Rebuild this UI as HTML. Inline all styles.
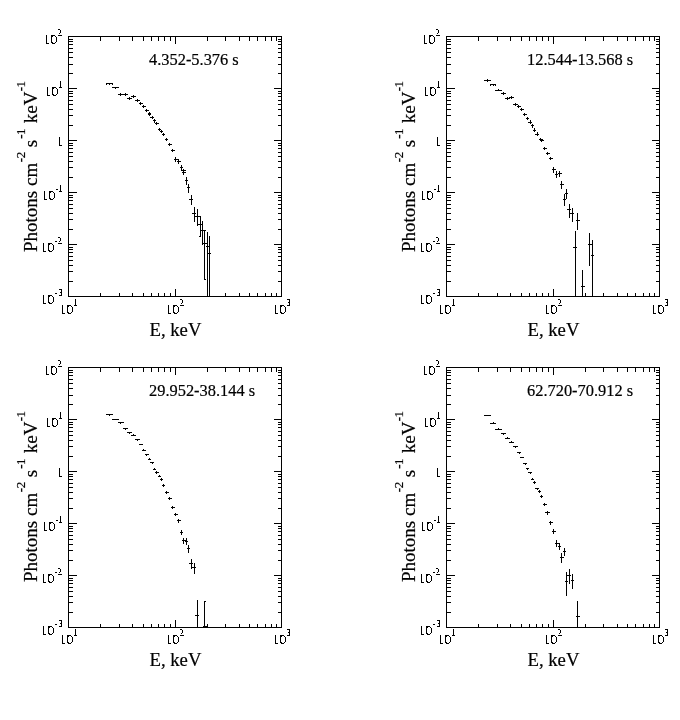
<!DOCTYPE html>
<html><head><meta charset="utf-8"><title>Spectra</title>
<style>
html,body{margin:0;padding:0;background:#fff;}
body{width:680px;height:720px;overflow:hidden;}
svg{display:block;will-change:transform;opacity:0.999;}
text{font-family:"Liberation Serif",serif;fill:#000;stroke:#000;stroke-width:0.2px;}
</style></head>
<body>
<svg width="680" height="720" viewBox="0 0 680 720">
<rect x="0" y="0" width="680" height="720" fill="#fff"/>
<g fill="#000" shape-rendering="crispEdges">
<rect x="68" y="36" width="214" height="1"/>
<rect x="68" y="296" width="214" height="1"/>
<rect x="68" y="36" width="1" height="261"/>
<rect x="281" y="36" width="1" height="261"/>
<rect x="68" y="73" width="5" height="1"/>
<rect x="278" y="73" width="4" height="1"/>
<rect x="68" y="64" width="5" height="1"/>
<rect x="278" y="64" width="4" height="1"/>
<rect x="68" y="57" width="5" height="1"/>
<rect x="278" y="57" width="4" height="1"/>
<rect x="68" y="52" width="5" height="1"/>
<rect x="278" y="52" width="4" height="1"/>
<rect x="68" y="48" width="5" height="1"/>
<rect x="278" y="48" width="4" height="1"/>
<rect x="68" y="44" width="5" height="1"/>
<rect x="278" y="44" width="4" height="1"/>
<rect x="68" y="41" width="5" height="1"/>
<rect x="278" y="41" width="4" height="1"/>
<rect x="68" y="39" width="5" height="1"/>
<rect x="278" y="39" width="4" height="1"/>
<rect x="68" y="88" width="9" height="1"/>
<rect x="274" y="88" width="8" height="1"/>
<rect x="68" y="125" width="5" height="1"/>
<rect x="278" y="125" width="4" height="1"/>
<rect x="68" y="115" width="5" height="1"/>
<rect x="278" y="115" width="4" height="1"/>
<rect x="68" y="109" width="5" height="1"/>
<rect x="278" y="109" width="4" height="1"/>
<rect x="68" y="104" width="5" height="1"/>
<rect x="278" y="104" width="4" height="1"/>
<rect x="68" y="100" width="5" height="1"/>
<rect x="278" y="100" width="4" height="1"/>
<rect x="68" y="96" width="5" height="1"/>
<rect x="278" y="96" width="4" height="1"/>
<rect x="68" y="93" width="5" height="1"/>
<rect x="278" y="93" width="4" height="1"/>
<rect x="68" y="91" width="5" height="1"/>
<rect x="278" y="91" width="4" height="1"/>
<rect x="68" y="140" width="9" height="1"/>
<rect x="274" y="140" width="8" height="1"/>
<rect x="68" y="177" width="5" height="1"/>
<rect x="278" y="177" width="4" height="1"/>
<rect x="68" y="167" width="5" height="1"/>
<rect x="278" y="167" width="4" height="1"/>
<rect x="68" y="161" width="5" height="1"/>
<rect x="278" y="161" width="4" height="1"/>
<rect x="68" y="156" width="5" height="1"/>
<rect x="278" y="156" width="4" height="1"/>
<rect x="68" y="152" width="5" height="1"/>
<rect x="278" y="152" width="4" height="1"/>
<rect x="68" y="148" width="5" height="1"/>
<rect x="278" y="148" width="4" height="1"/>
<rect x="68" y="145" width="5" height="1"/>
<rect x="278" y="145" width="4" height="1"/>
<rect x="68" y="143" width="5" height="1"/>
<rect x="278" y="143" width="4" height="1"/>
<rect x="68" y="192" width="9" height="1"/>
<rect x="274" y="192" width="8" height="1"/>
<rect x="68" y="229" width="5" height="1"/>
<rect x="278" y="229" width="4" height="1"/>
<rect x="68" y="219" width="5" height="1"/>
<rect x="278" y="219" width="4" height="1"/>
<rect x="68" y="213" width="5" height="1"/>
<rect x="278" y="213" width="4" height="1"/>
<rect x="68" y="208" width="5" height="1"/>
<rect x="278" y="208" width="4" height="1"/>
<rect x="68" y="204" width="5" height="1"/>
<rect x="278" y="204" width="4" height="1"/>
<rect x="68" y="200" width="5" height="1"/>
<rect x="278" y="200" width="4" height="1"/>
<rect x="68" y="197" width="5" height="1"/>
<rect x="278" y="197" width="4" height="1"/>
<rect x="68" y="195" width="5" height="1"/>
<rect x="278" y="195" width="4" height="1"/>
<rect x="68" y="244" width="9" height="1"/>
<rect x="274" y="244" width="8" height="1"/>
<rect x="68" y="281" width="5" height="1"/>
<rect x="278" y="281" width="4" height="1"/>
<rect x="68" y="271" width="5" height="1"/>
<rect x="278" y="271" width="4" height="1"/>
<rect x="68" y="265" width="5" height="1"/>
<rect x="278" y="265" width="4" height="1"/>
<rect x="68" y="260" width="5" height="1"/>
<rect x="278" y="260" width="4" height="1"/>
<rect x="68" y="256" width="5" height="1"/>
<rect x="278" y="256" width="4" height="1"/>
<rect x="68" y="252" width="5" height="1"/>
<rect x="278" y="252" width="4" height="1"/>
<rect x="68" y="249" width="5" height="1"/>
<rect x="278" y="249" width="4" height="1"/>
<rect x="68" y="247" width="5" height="1"/>
<rect x="278" y="247" width="4" height="1"/>
<rect x="100" y="293" width="1" height="4"/>
<rect x="100" y="36" width="1" height="5"/>
<rect x="119" y="293" width="1" height="4"/>
<rect x="119" y="36" width="1" height="5"/>
<rect x="132" y="293" width="1" height="4"/>
<rect x="132" y="36" width="1" height="5"/>
<rect x="143" y="293" width="1" height="4"/>
<rect x="143" y="36" width="1" height="5"/>
<rect x="151" y="293" width="1" height="4"/>
<rect x="151" y="36" width="1" height="5"/>
<rect x="158" y="293" width="1" height="4"/>
<rect x="158" y="36" width="1" height="5"/>
<rect x="164" y="293" width="1" height="4"/>
<rect x="164" y="36" width="1" height="5"/>
<rect x="170" y="293" width="1" height="4"/>
<rect x="170" y="36" width="1" height="5"/>
<rect x="175" y="289" width="1" height="8"/>
<rect x="175" y="36" width="1" height="8"/>
<rect x="207" y="293" width="1" height="4"/>
<rect x="207" y="36" width="1" height="5"/>
<rect x="225" y="293" width="1" height="4"/>
<rect x="225" y="36" width="1" height="5"/>
<rect x="239" y="293" width="1" height="4"/>
<rect x="239" y="36" width="1" height="5"/>
<rect x="249" y="293" width="1" height="4"/>
<rect x="249" y="36" width="1" height="5"/>
<rect x="257" y="293" width="1" height="4"/>
<rect x="257" y="36" width="1" height="5"/>
<rect x="265" y="293" width="1" height="4"/>
<rect x="265" y="36" width="1" height="5"/>
<rect x="271" y="293" width="1" height="4"/>
<rect x="271" y="36" width="1" height="5"/>
<rect x="276" y="293" width="1" height="4"/>
<rect x="276" y="36" width="1" height="5"/>
<rect x="58" y="29" width="2" height="1"/>
<rect x="60" y="30" width="1" height="1"/>
<rect x="60" y="31" width="1" height="1"/>
<rect x="60" y="32" width="1" height="1"/>
<rect x="59" y="33" width="1" height="1"/>
<rect x="58" y="35" width="4" height="1"/>
<rect x="51" y="35" width="4" height="1"/>
<rect x="51" y="36" width="2" height="1"/>
<rect x="55" y="36" width="1" height="1"/>
<rect x="51" y="37" width="1" height="1"/>
<rect x="56" y="37" width="1" height="1"/>
<rect x="51" y="38" width="1" height="1"/>
<rect x="56" y="38" width="1" height="1"/>
<rect x="51" y="39" width="1" height="1"/>
<rect x="56" y="39" width="1" height="1"/>
<rect x="51" y="40" width="1" height="1"/>
<rect x="56" y="40" width="1" height="1"/>
<rect x="51" y="41" width="1" height="1"/>
<rect x="56" y="41" width="1" height="1"/>
<rect x="51" y="42" width="2" height="1"/>
<rect x="55" y="42" width="1" height="1"/>
<rect x="52" y="43" width="3" height="1"/>
<rect x="46" y="35" width="1" height="1"/>
<rect x="46" y="36" width="1" height="1"/>
<rect x="46" y="37" width="1" height="1"/>
<rect x="46" y="38" width="1" height="1"/>
<rect x="46" y="39" width="1" height="1"/>
<rect x="46" y="40" width="1" height="1"/>
<rect x="46" y="41" width="1" height="1"/>
<rect x="46" y="42" width="1" height="1"/>
<rect x="46" y="43" width="3" height="1"/>
<rect x="60" y="81" width="1" height="1"/>
<rect x="60" y="82" width="1" height="1"/>
<rect x="60" y="83" width="1" height="1"/>
<rect x="60" y="84" width="1" height="1"/>
<rect x="60" y="85" width="1" height="1"/>
<rect x="60" y="86" width="1" height="1"/>
<rect x="59" y="87" width="3" height="1"/>
<rect x="52" y="87" width="4" height="1"/>
<rect x="52" y="88" width="2" height="1"/>
<rect x="56" y="88" width="1" height="1"/>
<rect x="52" y="89" width="1" height="1"/>
<rect x="57" y="89" width="1" height="1"/>
<rect x="52" y="90" width="1" height="1"/>
<rect x="57" y="90" width="1" height="1"/>
<rect x="52" y="91" width="1" height="1"/>
<rect x="57" y="91" width="1" height="1"/>
<rect x="52" y="92" width="1" height="1"/>
<rect x="57" y="92" width="1" height="1"/>
<rect x="52" y="93" width="1" height="1"/>
<rect x="57" y="93" width="1" height="1"/>
<rect x="52" y="94" width="2" height="1"/>
<rect x="56" y="94" width="1" height="1"/>
<rect x="53" y="95" width="3" height="1"/>
<rect x="47" y="87" width="1" height="1"/>
<rect x="47" y="88" width="1" height="1"/>
<rect x="47" y="89" width="1" height="1"/>
<rect x="47" y="90" width="1" height="1"/>
<rect x="47" y="91" width="1" height="1"/>
<rect x="47" y="92" width="1" height="1"/>
<rect x="47" y="93" width="1" height="1"/>
<rect x="47" y="94" width="1" height="1"/>
<rect x="47" y="95" width="3" height="1"/>
<rect x="59" y="137" width="1" height="1"/>
<rect x="59" y="138" width="1" height="1"/>
<rect x="59" y="139" width="1" height="1"/>
<rect x="59" y="140" width="1" height="1"/>
<rect x="59" y="141" width="1" height="1"/>
<rect x="59" y="142" width="1" height="1"/>
<rect x="59" y="143" width="1" height="1"/>
<rect x="59" y="144" width="1" height="1"/>
<rect x="59" y="145" width="3" height="1"/>
<rect x="56" y="189" width="2" height="1"/>
<rect x="60" y="185" width="1" height="1"/>
<rect x="60" y="186" width="1" height="1"/>
<rect x="60" y="187" width="1" height="1"/>
<rect x="60" y="188" width="1" height="1"/>
<rect x="60" y="189" width="1" height="1"/>
<rect x="60" y="190" width="1" height="1"/>
<rect x="59" y="191" width="3" height="1"/>
<rect x="49" y="191" width="4" height="1"/>
<rect x="49" y="192" width="2" height="1"/>
<rect x="53" y="192" width="1" height="1"/>
<rect x="49" y="193" width="1" height="1"/>
<rect x="54" y="193" width="1" height="1"/>
<rect x="49" y="194" width="1" height="1"/>
<rect x="54" y="194" width="1" height="1"/>
<rect x="49" y="195" width="1" height="1"/>
<rect x="54" y="195" width="1" height="1"/>
<rect x="49" y="196" width="1" height="1"/>
<rect x="54" y="196" width="1" height="1"/>
<rect x="49" y="197" width="1" height="1"/>
<rect x="54" y="197" width="1" height="1"/>
<rect x="49" y="198" width="2" height="1"/>
<rect x="53" y="198" width="1" height="1"/>
<rect x="50" y="199" width="3" height="1"/>
<rect x="44" y="191" width="1" height="1"/>
<rect x="44" y="192" width="1" height="1"/>
<rect x="44" y="193" width="1" height="1"/>
<rect x="44" y="194" width="1" height="1"/>
<rect x="44" y="195" width="1" height="1"/>
<rect x="44" y="196" width="1" height="1"/>
<rect x="44" y="197" width="1" height="1"/>
<rect x="44" y="198" width="1" height="1"/>
<rect x="44" y="199" width="3" height="1"/>
<rect x="55" y="241" width="2" height="1"/>
<rect x="58" y="237" width="2" height="1"/>
<rect x="60" y="238" width="1" height="1"/>
<rect x="60" y="239" width="1" height="1"/>
<rect x="60" y="240" width="1" height="1"/>
<rect x="59" y="241" width="1" height="1"/>
<rect x="58" y="243" width="4" height="1"/>
<rect x="48" y="243" width="4" height="1"/>
<rect x="48" y="244" width="2" height="1"/>
<rect x="52" y="244" width="1" height="1"/>
<rect x="48" y="245" width="1" height="1"/>
<rect x="53" y="245" width="1" height="1"/>
<rect x="48" y="246" width="1" height="1"/>
<rect x="53" y="246" width="1" height="1"/>
<rect x="48" y="247" width="1" height="1"/>
<rect x="53" y="247" width="1" height="1"/>
<rect x="48" y="248" width="1" height="1"/>
<rect x="53" y="248" width="1" height="1"/>
<rect x="48" y="249" width="1" height="1"/>
<rect x="53" y="249" width="1" height="1"/>
<rect x="48" y="250" width="2" height="1"/>
<rect x="52" y="250" width="1" height="1"/>
<rect x="49" y="251" width="3" height="1"/>
<rect x="43" y="243" width="1" height="1"/>
<rect x="43" y="244" width="1" height="1"/>
<rect x="43" y="245" width="1" height="1"/>
<rect x="43" y="246" width="1" height="1"/>
<rect x="43" y="247" width="1" height="1"/>
<rect x="43" y="248" width="1" height="1"/>
<rect x="43" y="249" width="1" height="1"/>
<rect x="43" y="250" width="1" height="1"/>
<rect x="43" y="251" width="3" height="1"/>
<rect x="55" y="293" width="2" height="1"/>
<rect x="59" y="289" width="3" height="1"/>
<rect x="61" y="290" width="1" height="1"/>
<rect x="61" y="291" width="1" height="1"/>
<rect x="60" y="292" width="2" height="1"/>
<rect x="61" y="293" width="1" height="1"/>
<rect x="61" y="294" width="1" height="1"/>
<rect x="59" y="295" width="3" height="1"/>
<rect x="48" y="295" width="4" height="1"/>
<rect x="48" y="296" width="2" height="1"/>
<rect x="52" y="296" width="1" height="1"/>
<rect x="48" y="297" width="1" height="1"/>
<rect x="53" y="297" width="1" height="1"/>
<rect x="48" y="298" width="1" height="1"/>
<rect x="53" y="298" width="1" height="1"/>
<rect x="48" y="299" width="1" height="1"/>
<rect x="53" y="299" width="1" height="1"/>
<rect x="48" y="300" width="1" height="1"/>
<rect x="53" y="300" width="1" height="1"/>
<rect x="48" y="301" width="1" height="1"/>
<rect x="53" y="301" width="1" height="1"/>
<rect x="48" y="302" width="2" height="1"/>
<rect x="52" y="302" width="1" height="1"/>
<rect x="49" y="303" width="3" height="1"/>
<rect x="43" y="295" width="1" height="1"/>
<rect x="43" y="296" width="1" height="1"/>
<rect x="43" y="297" width="1" height="1"/>
<rect x="43" y="298" width="1" height="1"/>
<rect x="43" y="299" width="1" height="1"/>
<rect x="43" y="300" width="1" height="1"/>
<rect x="43" y="301" width="1" height="1"/>
<rect x="43" y="302" width="1" height="1"/>
<rect x="43" y="303" width="3" height="1"/>
<rect x="62" y="305" width="1" height="1"/>
<rect x="62" y="306" width="1" height="1"/>
<rect x="62" y="307" width="1" height="1"/>
<rect x="62" y="308" width="1" height="1"/>
<rect x="62" y="309" width="1" height="1"/>
<rect x="62" y="310" width="1" height="1"/>
<rect x="62" y="311" width="1" height="1"/>
<rect x="62" y="312" width="1" height="1"/>
<rect x="62" y="313" width="3" height="1"/>
<rect x="67" y="305" width="4" height="1"/>
<rect x="67" y="306" width="2" height="1"/>
<rect x="71" y="306" width="1" height="1"/>
<rect x="67" y="307" width="1" height="1"/>
<rect x="72" y="307" width="1" height="1"/>
<rect x="67" y="308" width="1" height="1"/>
<rect x="72" y="308" width="1" height="1"/>
<rect x="67" y="309" width="1" height="1"/>
<rect x="72" y="309" width="1" height="1"/>
<rect x="67" y="310" width="1" height="1"/>
<rect x="72" y="310" width="1" height="1"/>
<rect x="67" y="311" width="1" height="1"/>
<rect x="72" y="311" width="1" height="1"/>
<rect x="67" y="312" width="2" height="1"/>
<rect x="71" y="312" width="1" height="1"/>
<rect x="68" y="313" width="3" height="1"/>
<rect x="75" y="299" width="1" height="1"/>
<rect x="75" y="300" width="1" height="1"/>
<rect x="75" y="301" width="1" height="1"/>
<rect x="75" y="302" width="1" height="1"/>
<rect x="75" y="303" width="1" height="1"/>
<rect x="75" y="304" width="1" height="1"/>
<rect x="74" y="305" width="3" height="1"/>
<rect x="168" y="305" width="1" height="1"/>
<rect x="168" y="306" width="1" height="1"/>
<rect x="168" y="307" width="1" height="1"/>
<rect x="168" y="308" width="1" height="1"/>
<rect x="168" y="309" width="1" height="1"/>
<rect x="168" y="310" width="1" height="1"/>
<rect x="168" y="311" width="1" height="1"/>
<rect x="168" y="312" width="1" height="1"/>
<rect x="168" y="313" width="3" height="1"/>
<rect x="173" y="305" width="4" height="1"/>
<rect x="173" y="306" width="2" height="1"/>
<rect x="177" y="306" width="1" height="1"/>
<rect x="173" y="307" width="1" height="1"/>
<rect x="178" y="307" width="1" height="1"/>
<rect x="173" y="308" width="1" height="1"/>
<rect x="178" y="308" width="1" height="1"/>
<rect x="173" y="309" width="1" height="1"/>
<rect x="178" y="309" width="1" height="1"/>
<rect x="173" y="310" width="1" height="1"/>
<rect x="178" y="310" width="1" height="1"/>
<rect x="173" y="311" width="1" height="1"/>
<rect x="178" y="311" width="1" height="1"/>
<rect x="173" y="312" width="2" height="1"/>
<rect x="177" y="312" width="1" height="1"/>
<rect x="174" y="313" width="3" height="1"/>
<rect x="180" y="299" width="2" height="1"/>
<rect x="182" y="300" width="1" height="1"/>
<rect x="182" y="301" width="1" height="1"/>
<rect x="182" y="302" width="1" height="1"/>
<rect x="181" y="303" width="1" height="1"/>
<rect x="180" y="305" width="4" height="1"/>
<rect x="275" y="305" width="1" height="1"/>
<rect x="275" y="306" width="1" height="1"/>
<rect x="275" y="307" width="1" height="1"/>
<rect x="275" y="308" width="1" height="1"/>
<rect x="275" y="309" width="1" height="1"/>
<rect x="275" y="310" width="1" height="1"/>
<rect x="275" y="311" width="1" height="1"/>
<rect x="275" y="312" width="1" height="1"/>
<rect x="275" y="313" width="3" height="1"/>
<rect x="280" y="305" width="4" height="1"/>
<rect x="280" y="306" width="2" height="1"/>
<rect x="284" y="306" width="1" height="1"/>
<rect x="280" y="307" width="1" height="1"/>
<rect x="285" y="307" width="1" height="1"/>
<rect x="280" y="308" width="1" height="1"/>
<rect x="285" y="308" width="1" height="1"/>
<rect x="280" y="309" width="1" height="1"/>
<rect x="285" y="309" width="1" height="1"/>
<rect x="280" y="310" width="1" height="1"/>
<rect x="285" y="310" width="1" height="1"/>
<rect x="280" y="311" width="1" height="1"/>
<rect x="285" y="311" width="1" height="1"/>
<rect x="280" y="312" width="2" height="1"/>
<rect x="284" y="312" width="1" height="1"/>
<rect x="281" y="313" width="3" height="1"/>
<rect x="287" y="299" width="3" height="1"/>
<rect x="289" y="300" width="1" height="1"/>
<rect x="289" y="301" width="1" height="1"/>
<rect x="288" y="302" width="2" height="1"/>
<rect x="289" y="303" width="1" height="1"/>
<rect x="289" y="304" width="1" height="1"/>
<rect x="287" y="305" width="3" height="1"/>
<rect x="106" y="83" width="7" height="1"/>
<rect x="109" y="83" width="1" height="2"/>
<rect x="106" y="84" width="1" height="1"/>
<rect x="106" y="84" width="1" height="1"/>
<rect x="112" y="84" width="1" height="1"/>
<rect x="112" y="84" width="1" height="1"/>
<rect x="112" y="87" width="7" height="1"/>
<rect x="115" y="87" width="1" height="2"/>
<rect x="118" y="94" width="5" height="1"/>
<rect x="120" y="93" width="1" height="3"/>
<rect x="123" y="94" width="5" height="1"/>
<rect x="125" y="93" width="1" height="3"/>
<rect x="127" y="98" width="5" height="1"/>
<rect x="129" y="97" width="1" height="3"/>
<rect x="131" y="96" width="5" height="1"/>
<rect x="133" y="95" width="1" height="3"/>
<rect x="135" y="100" width="5" height="1"/>
<rect x="137" y="99" width="1" height="3"/>
<rect x="139" y="103" width="4" height="1"/>
<rect x="140" y="102" width="1" height="3"/>
<rect x="142" y="106" width="4" height="1"/>
<rect x="143" y="105" width="1" height="3"/>
<rect x="145" y="110" width="4" height="1"/>
<rect x="146" y="109" width="1" height="3"/>
<rect x="148" y="113" width="3" height="1"/>
<rect x="149" y="112" width="1" height="4"/>
<rect x="148" y="114" width="3" height="1"/>
<rect x="149" y="114" width="1" height="1"/>
<rect x="150" y="117" width="4" height="1"/>
<rect x="152" y="116" width="1" height="3"/>
<rect x="153" y="120" width="3" height="1"/>
<rect x="154" y="119" width="1" height="4"/>
<rect x="155" y="123" width="4" height="1"/>
<rect x="156" y="122" width="1" height="3"/>
<rect x="158" y="129" width="3" height="1"/>
<rect x="159" y="128" width="1" height="3"/>
<rect x="160" y="131" width="3" height="1"/>
<rect x="161" y="130" width="1" height="3"/>
<rect x="162" y="134" width="3" height="1"/>
<rect x="163" y="133" width="1" height="3"/>
<rect x="165" y="139" width="3" height="1"/>
<rect x="166" y="138" width="1" height="3"/>
<rect x="168" y="144" width="4" height="1"/>
<rect x="169" y="143" width="1" height="3"/>
<rect x="171" y="150" width="4" height="1"/>
<rect x="172" y="149" width="1" height="3"/>
<rect x="174" y="159" width="4" height="1"/>
<rect x="175" y="157" width="1" height="5"/>
<rect x="177" y="161" width="4" height="1"/>
<rect x="178" y="159" width="1" height="5"/>
<rect x="180" y="167" width="3" height="1"/>
<rect x="181" y="165" width="1" height="6"/>
<rect x="182" y="170" width="4" height="1"/>
<rect x="183" y="169" width="1" height="6"/>
<rect x="182" y="172" width="4" height="1"/>
<rect x="183" y="172" width="1" height="2"/>
<rect x="185" y="180" width="3" height="1"/>
<rect x="186" y="177" width="1" height="8"/>
<rect x="187" y="187" width="3" height="1"/>
<rect x="188" y="184" width="1" height="9"/>
<rect x="189" y="199" width="4" height="1"/>
<rect x="191" y="195" width="1" height="10"/>
<rect x="192" y="213" width="4" height="1"/>
<rect x="194" y="207" width="1" height="15"/>
<rect x="195" y="216" width="6" height="1"/>
<rect x="197" y="209" width="1" height="17"/>
<rect x="197" y="224" width="6" height="1"/>
<rect x="200" y="217" width="1" height="20"/>
<rect x="200" y="230" width="6" height="1"/>
<rect x="202" y="221" width="1" height="24"/>
<rect x="203" y="243" width="4" height="1"/>
<rect x="204" y="230" width="1" height="49"/>
<rect x="206" y="246" width="3" height="1"/>
<rect x="207" y="232" width="1" height="65"/>
<rect x="208" y="253" width="3" height="1"/>
<rect x="209" y="236" width="1" height="61"/>
<rect x="199" y="236" width="2" height="1"/>
<rect x="199" y="236" width="1" height="1"/>
<rect x="204" y="279" width="2" height="1"/>
<rect x="204" y="279" width="1" height="1"/>
<rect x="446" y="36" width="214" height="1"/>
<rect x="446" y="296" width="214" height="1"/>
<rect x="446" y="36" width="1" height="261"/>
<rect x="659" y="36" width="1" height="261"/>
<rect x="446" y="73" width="5" height="1"/>
<rect x="656" y="73" width="4" height="1"/>
<rect x="446" y="64" width="5" height="1"/>
<rect x="656" y="64" width="4" height="1"/>
<rect x="446" y="57" width="5" height="1"/>
<rect x="656" y="57" width="4" height="1"/>
<rect x="446" y="52" width="5" height="1"/>
<rect x="656" y="52" width="4" height="1"/>
<rect x="446" y="48" width="5" height="1"/>
<rect x="656" y="48" width="4" height="1"/>
<rect x="446" y="44" width="5" height="1"/>
<rect x="656" y="44" width="4" height="1"/>
<rect x="446" y="41" width="5" height="1"/>
<rect x="656" y="41" width="4" height="1"/>
<rect x="446" y="39" width="5" height="1"/>
<rect x="656" y="39" width="4" height="1"/>
<rect x="446" y="88" width="9" height="1"/>
<rect x="652" y="88" width="8" height="1"/>
<rect x="446" y="125" width="5" height="1"/>
<rect x="656" y="125" width="4" height="1"/>
<rect x="446" y="115" width="5" height="1"/>
<rect x="656" y="115" width="4" height="1"/>
<rect x="446" y="109" width="5" height="1"/>
<rect x="656" y="109" width="4" height="1"/>
<rect x="446" y="104" width="5" height="1"/>
<rect x="656" y="104" width="4" height="1"/>
<rect x="446" y="100" width="5" height="1"/>
<rect x="656" y="100" width="4" height="1"/>
<rect x="446" y="96" width="5" height="1"/>
<rect x="656" y="96" width="4" height="1"/>
<rect x="446" y="93" width="5" height="1"/>
<rect x="656" y="93" width="4" height="1"/>
<rect x="446" y="91" width="5" height="1"/>
<rect x="656" y="91" width="4" height="1"/>
<rect x="446" y="140" width="9" height="1"/>
<rect x="652" y="140" width="8" height="1"/>
<rect x="446" y="177" width="5" height="1"/>
<rect x="656" y="177" width="4" height="1"/>
<rect x="446" y="167" width="5" height="1"/>
<rect x="656" y="167" width="4" height="1"/>
<rect x="446" y="161" width="5" height="1"/>
<rect x="656" y="161" width="4" height="1"/>
<rect x="446" y="156" width="5" height="1"/>
<rect x="656" y="156" width="4" height="1"/>
<rect x="446" y="152" width="5" height="1"/>
<rect x="656" y="152" width="4" height="1"/>
<rect x="446" y="148" width="5" height="1"/>
<rect x="656" y="148" width="4" height="1"/>
<rect x="446" y="145" width="5" height="1"/>
<rect x="656" y="145" width="4" height="1"/>
<rect x="446" y="143" width="5" height="1"/>
<rect x="656" y="143" width="4" height="1"/>
<rect x="446" y="192" width="9" height="1"/>
<rect x="652" y="192" width="8" height="1"/>
<rect x="446" y="229" width="5" height="1"/>
<rect x="656" y="229" width="4" height="1"/>
<rect x="446" y="219" width="5" height="1"/>
<rect x="656" y="219" width="4" height="1"/>
<rect x="446" y="213" width="5" height="1"/>
<rect x="656" y="213" width="4" height="1"/>
<rect x="446" y="208" width="5" height="1"/>
<rect x="656" y="208" width="4" height="1"/>
<rect x="446" y="204" width="5" height="1"/>
<rect x="656" y="204" width="4" height="1"/>
<rect x="446" y="200" width="5" height="1"/>
<rect x="656" y="200" width="4" height="1"/>
<rect x="446" y="197" width="5" height="1"/>
<rect x="656" y="197" width="4" height="1"/>
<rect x="446" y="195" width="5" height="1"/>
<rect x="656" y="195" width="4" height="1"/>
<rect x="446" y="244" width="9" height="1"/>
<rect x="652" y="244" width="8" height="1"/>
<rect x="446" y="281" width="5" height="1"/>
<rect x="656" y="281" width="4" height="1"/>
<rect x="446" y="271" width="5" height="1"/>
<rect x="656" y="271" width="4" height="1"/>
<rect x="446" y="265" width="5" height="1"/>
<rect x="656" y="265" width="4" height="1"/>
<rect x="446" y="260" width="5" height="1"/>
<rect x="656" y="260" width="4" height="1"/>
<rect x="446" y="256" width="5" height="1"/>
<rect x="656" y="256" width="4" height="1"/>
<rect x="446" y="252" width="5" height="1"/>
<rect x="656" y="252" width="4" height="1"/>
<rect x="446" y="249" width="5" height="1"/>
<rect x="656" y="249" width="4" height="1"/>
<rect x="446" y="247" width="5" height="1"/>
<rect x="656" y="247" width="4" height="1"/>
<rect x="478" y="293" width="1" height="4"/>
<rect x="478" y="36" width="1" height="5"/>
<rect x="497" y="293" width="1" height="4"/>
<rect x="497" y="36" width="1" height="5"/>
<rect x="510" y="293" width="1" height="4"/>
<rect x="510" y="36" width="1" height="5"/>
<rect x="521" y="293" width="1" height="4"/>
<rect x="521" y="36" width="1" height="5"/>
<rect x="529" y="293" width="1" height="4"/>
<rect x="529" y="36" width="1" height="5"/>
<rect x="536" y="293" width="1" height="4"/>
<rect x="536" y="36" width="1" height="5"/>
<rect x="542" y="293" width="1" height="4"/>
<rect x="542" y="36" width="1" height="5"/>
<rect x="548" y="293" width="1" height="4"/>
<rect x="548" y="36" width="1" height="5"/>
<rect x="553" y="289" width="1" height="8"/>
<rect x="553" y="36" width="1" height="8"/>
<rect x="585" y="293" width="1" height="4"/>
<rect x="585" y="36" width="1" height="5"/>
<rect x="603" y="293" width="1" height="4"/>
<rect x="603" y="36" width="1" height="5"/>
<rect x="617" y="293" width="1" height="4"/>
<rect x="617" y="36" width="1" height="5"/>
<rect x="627" y="293" width="1" height="4"/>
<rect x="627" y="36" width="1" height="5"/>
<rect x="635" y="293" width="1" height="4"/>
<rect x="635" y="36" width="1" height="5"/>
<rect x="643" y="293" width="1" height="4"/>
<rect x="643" y="36" width="1" height="5"/>
<rect x="649" y="293" width="1" height="4"/>
<rect x="649" y="36" width="1" height="5"/>
<rect x="654" y="293" width="1" height="4"/>
<rect x="654" y="36" width="1" height="5"/>
<rect x="436" y="29" width="2" height="1"/>
<rect x="438" y="30" width="1" height="1"/>
<rect x="438" y="31" width="1" height="1"/>
<rect x="438" y="32" width="1" height="1"/>
<rect x="437" y="33" width="1" height="1"/>
<rect x="436" y="35" width="4" height="1"/>
<rect x="429" y="35" width="4" height="1"/>
<rect x="429" y="36" width="2" height="1"/>
<rect x="433" y="36" width="1" height="1"/>
<rect x="429" y="37" width="1" height="1"/>
<rect x="434" y="37" width="1" height="1"/>
<rect x="429" y="38" width="1" height="1"/>
<rect x="434" y="38" width="1" height="1"/>
<rect x="429" y="39" width="1" height="1"/>
<rect x="434" y="39" width="1" height="1"/>
<rect x="429" y="40" width="1" height="1"/>
<rect x="434" y="40" width="1" height="1"/>
<rect x="429" y="41" width="1" height="1"/>
<rect x="434" y="41" width="1" height="1"/>
<rect x="429" y="42" width="2" height="1"/>
<rect x="433" y="42" width="1" height="1"/>
<rect x="430" y="43" width="3" height="1"/>
<rect x="424" y="35" width="1" height="1"/>
<rect x="424" y="36" width="1" height="1"/>
<rect x="424" y="37" width="1" height="1"/>
<rect x="424" y="38" width="1" height="1"/>
<rect x="424" y="39" width="1" height="1"/>
<rect x="424" y="40" width="1" height="1"/>
<rect x="424" y="41" width="1" height="1"/>
<rect x="424" y="42" width="1" height="1"/>
<rect x="424" y="43" width="3" height="1"/>
<rect x="438" y="81" width="1" height="1"/>
<rect x="438" y="82" width="1" height="1"/>
<rect x="438" y="83" width="1" height="1"/>
<rect x="438" y="84" width="1" height="1"/>
<rect x="438" y="85" width="1" height="1"/>
<rect x="438" y="86" width="1" height="1"/>
<rect x="437" y="87" width="3" height="1"/>
<rect x="430" y="87" width="4" height="1"/>
<rect x="430" y="88" width="2" height="1"/>
<rect x="434" y="88" width="1" height="1"/>
<rect x="430" y="89" width="1" height="1"/>
<rect x="435" y="89" width="1" height="1"/>
<rect x="430" y="90" width="1" height="1"/>
<rect x="435" y="90" width="1" height="1"/>
<rect x="430" y="91" width="1" height="1"/>
<rect x="435" y="91" width="1" height="1"/>
<rect x="430" y="92" width="1" height="1"/>
<rect x="435" y="92" width="1" height="1"/>
<rect x="430" y="93" width="1" height="1"/>
<rect x="435" y="93" width="1" height="1"/>
<rect x="430" y="94" width="2" height="1"/>
<rect x="434" y="94" width="1" height="1"/>
<rect x="431" y="95" width="3" height="1"/>
<rect x="425" y="87" width="1" height="1"/>
<rect x="425" y="88" width="1" height="1"/>
<rect x="425" y="89" width="1" height="1"/>
<rect x="425" y="90" width="1" height="1"/>
<rect x="425" y="91" width="1" height="1"/>
<rect x="425" y="92" width="1" height="1"/>
<rect x="425" y="93" width="1" height="1"/>
<rect x="425" y="94" width="1" height="1"/>
<rect x="425" y="95" width="3" height="1"/>
<rect x="437" y="137" width="1" height="1"/>
<rect x="437" y="138" width="1" height="1"/>
<rect x="437" y="139" width="1" height="1"/>
<rect x="437" y="140" width="1" height="1"/>
<rect x="437" y="141" width="1" height="1"/>
<rect x="437" y="142" width="1" height="1"/>
<rect x="437" y="143" width="1" height="1"/>
<rect x="437" y="144" width="1" height="1"/>
<rect x="437" y="145" width="3" height="1"/>
<rect x="434" y="189" width="2" height="1"/>
<rect x="438" y="185" width="1" height="1"/>
<rect x="438" y="186" width="1" height="1"/>
<rect x="438" y="187" width="1" height="1"/>
<rect x="438" y="188" width="1" height="1"/>
<rect x="438" y="189" width="1" height="1"/>
<rect x="438" y="190" width="1" height="1"/>
<rect x="437" y="191" width="3" height="1"/>
<rect x="427" y="191" width="4" height="1"/>
<rect x="427" y="192" width="2" height="1"/>
<rect x="431" y="192" width="1" height="1"/>
<rect x="427" y="193" width="1" height="1"/>
<rect x="432" y="193" width="1" height="1"/>
<rect x="427" y="194" width="1" height="1"/>
<rect x="432" y="194" width="1" height="1"/>
<rect x="427" y="195" width="1" height="1"/>
<rect x="432" y="195" width="1" height="1"/>
<rect x="427" y="196" width="1" height="1"/>
<rect x="432" y="196" width="1" height="1"/>
<rect x="427" y="197" width="1" height="1"/>
<rect x="432" y="197" width="1" height="1"/>
<rect x="427" y="198" width="2" height="1"/>
<rect x="431" y="198" width="1" height="1"/>
<rect x="428" y="199" width="3" height="1"/>
<rect x="422" y="191" width="1" height="1"/>
<rect x="422" y="192" width="1" height="1"/>
<rect x="422" y="193" width="1" height="1"/>
<rect x="422" y="194" width="1" height="1"/>
<rect x="422" y="195" width="1" height="1"/>
<rect x="422" y="196" width="1" height="1"/>
<rect x="422" y="197" width="1" height="1"/>
<rect x="422" y="198" width="1" height="1"/>
<rect x="422" y="199" width="3" height="1"/>
<rect x="433" y="241" width="2" height="1"/>
<rect x="436" y="237" width="2" height="1"/>
<rect x="438" y="238" width="1" height="1"/>
<rect x="438" y="239" width="1" height="1"/>
<rect x="438" y="240" width="1" height="1"/>
<rect x="437" y="241" width="1" height="1"/>
<rect x="436" y="243" width="4" height="1"/>
<rect x="426" y="243" width="4" height="1"/>
<rect x="426" y="244" width="2" height="1"/>
<rect x="430" y="244" width="1" height="1"/>
<rect x="426" y="245" width="1" height="1"/>
<rect x="431" y="245" width="1" height="1"/>
<rect x="426" y="246" width="1" height="1"/>
<rect x="431" y="246" width="1" height="1"/>
<rect x="426" y="247" width="1" height="1"/>
<rect x="431" y="247" width="1" height="1"/>
<rect x="426" y="248" width="1" height="1"/>
<rect x="431" y="248" width="1" height="1"/>
<rect x="426" y="249" width="1" height="1"/>
<rect x="431" y="249" width="1" height="1"/>
<rect x="426" y="250" width="2" height="1"/>
<rect x="430" y="250" width="1" height="1"/>
<rect x="427" y="251" width="3" height="1"/>
<rect x="421" y="243" width="1" height="1"/>
<rect x="421" y="244" width="1" height="1"/>
<rect x="421" y="245" width="1" height="1"/>
<rect x="421" y="246" width="1" height="1"/>
<rect x="421" y="247" width="1" height="1"/>
<rect x="421" y="248" width="1" height="1"/>
<rect x="421" y="249" width="1" height="1"/>
<rect x="421" y="250" width="1" height="1"/>
<rect x="421" y="251" width="3" height="1"/>
<rect x="433" y="293" width="2" height="1"/>
<rect x="437" y="289" width="3" height="1"/>
<rect x="439" y="290" width="1" height="1"/>
<rect x="439" y="291" width="1" height="1"/>
<rect x="438" y="292" width="2" height="1"/>
<rect x="439" y="293" width="1" height="1"/>
<rect x="439" y="294" width="1" height="1"/>
<rect x="437" y="295" width="3" height="1"/>
<rect x="426" y="295" width="4" height="1"/>
<rect x="426" y="296" width="2" height="1"/>
<rect x="430" y="296" width="1" height="1"/>
<rect x="426" y="297" width="1" height="1"/>
<rect x="431" y="297" width="1" height="1"/>
<rect x="426" y="298" width="1" height="1"/>
<rect x="431" y="298" width="1" height="1"/>
<rect x="426" y="299" width="1" height="1"/>
<rect x="431" y="299" width="1" height="1"/>
<rect x="426" y="300" width="1" height="1"/>
<rect x="431" y="300" width="1" height="1"/>
<rect x="426" y="301" width="1" height="1"/>
<rect x="431" y="301" width="1" height="1"/>
<rect x="426" y="302" width="2" height="1"/>
<rect x="430" y="302" width="1" height="1"/>
<rect x="427" y="303" width="3" height="1"/>
<rect x="421" y="295" width="1" height="1"/>
<rect x="421" y="296" width="1" height="1"/>
<rect x="421" y="297" width="1" height="1"/>
<rect x="421" y="298" width="1" height="1"/>
<rect x="421" y="299" width="1" height="1"/>
<rect x="421" y="300" width="1" height="1"/>
<rect x="421" y="301" width="1" height="1"/>
<rect x="421" y="302" width="1" height="1"/>
<rect x="421" y="303" width="3" height="1"/>
<rect x="440" y="305" width="1" height="1"/>
<rect x="440" y="306" width="1" height="1"/>
<rect x="440" y="307" width="1" height="1"/>
<rect x="440" y="308" width="1" height="1"/>
<rect x="440" y="309" width="1" height="1"/>
<rect x="440" y="310" width="1" height="1"/>
<rect x="440" y="311" width="1" height="1"/>
<rect x="440" y="312" width="1" height="1"/>
<rect x="440" y="313" width="3" height="1"/>
<rect x="445" y="305" width="4" height="1"/>
<rect x="445" y="306" width="2" height="1"/>
<rect x="449" y="306" width="1" height="1"/>
<rect x="445" y="307" width="1" height="1"/>
<rect x="450" y="307" width="1" height="1"/>
<rect x="445" y="308" width="1" height="1"/>
<rect x="450" y="308" width="1" height="1"/>
<rect x="445" y="309" width="1" height="1"/>
<rect x="450" y="309" width="1" height="1"/>
<rect x="445" y="310" width="1" height="1"/>
<rect x="450" y="310" width="1" height="1"/>
<rect x="445" y="311" width="1" height="1"/>
<rect x="450" y="311" width="1" height="1"/>
<rect x="445" y="312" width="2" height="1"/>
<rect x="449" y="312" width="1" height="1"/>
<rect x="446" y="313" width="3" height="1"/>
<rect x="453" y="299" width="1" height="1"/>
<rect x="453" y="300" width="1" height="1"/>
<rect x="453" y="301" width="1" height="1"/>
<rect x="453" y="302" width="1" height="1"/>
<rect x="453" y="303" width="1" height="1"/>
<rect x="453" y="304" width="1" height="1"/>
<rect x="452" y="305" width="3" height="1"/>
<rect x="546" y="305" width="1" height="1"/>
<rect x="546" y="306" width="1" height="1"/>
<rect x="546" y="307" width="1" height="1"/>
<rect x="546" y="308" width="1" height="1"/>
<rect x="546" y="309" width="1" height="1"/>
<rect x="546" y="310" width="1" height="1"/>
<rect x="546" y="311" width="1" height="1"/>
<rect x="546" y="312" width="1" height="1"/>
<rect x="546" y="313" width="3" height="1"/>
<rect x="551" y="305" width="4" height="1"/>
<rect x="551" y="306" width="2" height="1"/>
<rect x="555" y="306" width="1" height="1"/>
<rect x="551" y="307" width="1" height="1"/>
<rect x="556" y="307" width="1" height="1"/>
<rect x="551" y="308" width="1" height="1"/>
<rect x="556" y="308" width="1" height="1"/>
<rect x="551" y="309" width="1" height="1"/>
<rect x="556" y="309" width="1" height="1"/>
<rect x="551" y="310" width="1" height="1"/>
<rect x="556" y="310" width="1" height="1"/>
<rect x="551" y="311" width="1" height="1"/>
<rect x="556" y="311" width="1" height="1"/>
<rect x="551" y="312" width="2" height="1"/>
<rect x="555" y="312" width="1" height="1"/>
<rect x="552" y="313" width="3" height="1"/>
<rect x="558" y="299" width="2" height="1"/>
<rect x="560" y="300" width="1" height="1"/>
<rect x="560" y="301" width="1" height="1"/>
<rect x="560" y="302" width="1" height="1"/>
<rect x="559" y="303" width="1" height="1"/>
<rect x="558" y="305" width="4" height="1"/>
<rect x="653" y="305" width="1" height="1"/>
<rect x="653" y="306" width="1" height="1"/>
<rect x="653" y="307" width="1" height="1"/>
<rect x="653" y="308" width="1" height="1"/>
<rect x="653" y="309" width="1" height="1"/>
<rect x="653" y="310" width="1" height="1"/>
<rect x="653" y="311" width="1" height="1"/>
<rect x="653" y="312" width="1" height="1"/>
<rect x="653" y="313" width="3" height="1"/>
<rect x="658" y="305" width="4" height="1"/>
<rect x="658" y="306" width="2" height="1"/>
<rect x="662" y="306" width="1" height="1"/>
<rect x="658" y="307" width="1" height="1"/>
<rect x="663" y="307" width="1" height="1"/>
<rect x="658" y="308" width="1" height="1"/>
<rect x="663" y="308" width="1" height="1"/>
<rect x="658" y="309" width="1" height="1"/>
<rect x="663" y="309" width="1" height="1"/>
<rect x="658" y="310" width="1" height="1"/>
<rect x="663" y="310" width="1" height="1"/>
<rect x="658" y="311" width="1" height="1"/>
<rect x="663" y="311" width="1" height="1"/>
<rect x="658" y="312" width="2" height="1"/>
<rect x="662" y="312" width="1" height="1"/>
<rect x="659" y="313" width="3" height="1"/>
<rect x="665" y="299" width="3" height="1"/>
<rect x="667" y="300" width="1" height="1"/>
<rect x="667" y="301" width="1" height="1"/>
<rect x="666" y="302" width="2" height="1"/>
<rect x="667" y="303" width="1" height="1"/>
<rect x="667" y="304" width="1" height="1"/>
<rect x="665" y="305" width="3" height="1"/>
<rect x="484" y="80" width="7" height="1"/>
<rect x="487" y="79" width="1" height="3"/>
<rect x="490" y="84" width="6" height="1"/>
<rect x="493" y="84" width="1" height="2"/>
<rect x="490" y="85" width="1" height="1"/>
<rect x="490" y="85" width="1" height="1"/>
<rect x="495" y="85" width="1" height="1"/>
<rect x="495" y="85" width="1" height="1"/>
<rect x="495" y="90" width="7" height="1"/>
<rect x="498" y="89" width="1" height="2"/>
<rect x="501" y="93" width="5" height="1"/>
<rect x="503" y="92" width="1" height="3"/>
<rect x="505" y="98" width="5" height="1"/>
<rect x="507" y="97" width="1" height="3"/>
<rect x="509" y="97" width="5" height="1"/>
<rect x="511" y="96" width="1" height="3"/>
<rect x="513" y="104" width="5" height="1"/>
<rect x="515" y="103" width="1" height="3"/>
<rect x="517" y="106" width="4" height="1"/>
<rect x="518" y="105" width="1" height="3"/>
<rect x="520" y="109" width="4" height="1"/>
<rect x="521" y="108" width="1" height="3"/>
<rect x="523" y="114" width="4" height="1"/>
<rect x="524" y="113" width="1" height="3"/>
<rect x="526" y="118" width="3" height="1"/>
<rect x="527" y="117" width="1" height="3"/>
<rect x="528" y="122" width="4" height="1"/>
<rect x="530" y="120" width="1" height="4"/>
<rect x="531" y="125" width="3" height="1"/>
<rect x="532" y="124" width="1" height="4"/>
<rect x="533" y="130" width="3" height="1"/>
<rect x="534" y="128" width="1" height="4"/>
<rect x="535" y="134" width="4" height="1"/>
<rect x="537" y="132" width="1" height="4"/>
<rect x="539" y="139" width="4" height="1"/>
<rect x="540" y="138" width="1" height="3"/>
<rect x="540" y="140" width="4" height="1"/>
<rect x="541" y="139" width="1" height="3"/>
<rect x="543" y="148" width="4" height="1"/>
<rect x="544" y="147" width="1" height="3"/>
<rect x="546" y="153" width="4" height="1"/>
<rect x="547" y="152" width="1" height="3"/>
<rect x="549" y="158" width="4" height="1"/>
<rect x="550" y="157" width="1" height="3"/>
<rect x="552" y="169" width="4" height="1"/>
<rect x="553" y="167" width="1" height="6"/>
<rect x="555" y="174" width="3" height="1"/>
<rect x="556" y="171" width="1" height="7"/>
<rect x="558" y="173" width="4" height="1"/>
<rect x="559" y="171" width="1" height="6"/>
<rect x="560" y="184" width="4" height="1"/>
<rect x="561" y="181" width="1" height="8"/>
<rect x="565" y="193" width="3" height="1"/>
<rect x="566" y="189" width="1" height="10"/>
<rect x="563" y="199" width="3" height="1"/>
<rect x="564" y="194" width="1" height="12"/>
<rect x="567" y="209" width="4" height="1"/>
<rect x="569" y="204" width="1" height="14"/>
<rect x="570" y="213" width="4" height="1"/>
<rect x="572" y="208" width="1" height="14"/>
<rect x="576" y="220" width="4" height="1"/>
<rect x="577" y="213" width="1" height="17"/>
<rect x="573" y="247" width="4" height="1"/>
<rect x="575" y="231" width="1" height="66"/>
<rect x="581" y="286" width="4" height="1"/>
<rect x="582" y="270" width="1" height="27"/>
<rect x="588" y="244" width="4" height="1"/>
<rect x="589" y="233" width="1" height="33"/>
<rect x="591" y="255" width="3" height="1"/>
<rect x="592" y="240" width="1" height="57"/>
<rect x="68" y="367" width="214" height="1"/>
<rect x="68" y="627" width="214" height="1"/>
<rect x="68" y="367" width="1" height="261"/>
<rect x="281" y="367" width="1" height="261"/>
<rect x="68" y="404" width="5" height="1"/>
<rect x="278" y="404" width="4" height="1"/>
<rect x="68" y="395" width="5" height="1"/>
<rect x="278" y="395" width="4" height="1"/>
<rect x="68" y="388" width="5" height="1"/>
<rect x="278" y="388" width="4" height="1"/>
<rect x="68" y="383" width="5" height="1"/>
<rect x="278" y="383" width="4" height="1"/>
<rect x="68" y="379" width="5" height="1"/>
<rect x="278" y="379" width="4" height="1"/>
<rect x="68" y="375" width="5" height="1"/>
<rect x="278" y="375" width="4" height="1"/>
<rect x="68" y="372" width="5" height="1"/>
<rect x="278" y="372" width="4" height="1"/>
<rect x="68" y="370" width="5" height="1"/>
<rect x="278" y="370" width="4" height="1"/>
<rect x="68" y="419" width="9" height="1"/>
<rect x="274" y="419" width="8" height="1"/>
<rect x="68" y="456" width="5" height="1"/>
<rect x="278" y="456" width="4" height="1"/>
<rect x="68" y="446" width="5" height="1"/>
<rect x="278" y="446" width="4" height="1"/>
<rect x="68" y="440" width="5" height="1"/>
<rect x="278" y="440" width="4" height="1"/>
<rect x="68" y="435" width="5" height="1"/>
<rect x="278" y="435" width="4" height="1"/>
<rect x="68" y="431" width="5" height="1"/>
<rect x="278" y="431" width="4" height="1"/>
<rect x="68" y="427" width="5" height="1"/>
<rect x="278" y="427" width="4" height="1"/>
<rect x="68" y="424" width="5" height="1"/>
<rect x="278" y="424" width="4" height="1"/>
<rect x="68" y="422" width="5" height="1"/>
<rect x="278" y="422" width="4" height="1"/>
<rect x="68" y="471" width="9" height="1"/>
<rect x="274" y="471" width="8" height="1"/>
<rect x="68" y="508" width="5" height="1"/>
<rect x="278" y="508" width="4" height="1"/>
<rect x="68" y="498" width="5" height="1"/>
<rect x="278" y="498" width="4" height="1"/>
<rect x="68" y="492" width="5" height="1"/>
<rect x="278" y="492" width="4" height="1"/>
<rect x="68" y="487" width="5" height="1"/>
<rect x="278" y="487" width="4" height="1"/>
<rect x="68" y="483" width="5" height="1"/>
<rect x="278" y="483" width="4" height="1"/>
<rect x="68" y="479" width="5" height="1"/>
<rect x="278" y="479" width="4" height="1"/>
<rect x="68" y="476" width="5" height="1"/>
<rect x="278" y="476" width="4" height="1"/>
<rect x="68" y="474" width="5" height="1"/>
<rect x="278" y="474" width="4" height="1"/>
<rect x="68" y="523" width="9" height="1"/>
<rect x="274" y="523" width="8" height="1"/>
<rect x="68" y="560" width="5" height="1"/>
<rect x="278" y="560" width="4" height="1"/>
<rect x="68" y="550" width="5" height="1"/>
<rect x="278" y="550" width="4" height="1"/>
<rect x="68" y="544" width="5" height="1"/>
<rect x="278" y="544" width="4" height="1"/>
<rect x="68" y="539" width="5" height="1"/>
<rect x="278" y="539" width="4" height="1"/>
<rect x="68" y="535" width="5" height="1"/>
<rect x="278" y="535" width="4" height="1"/>
<rect x="68" y="531" width="5" height="1"/>
<rect x="278" y="531" width="4" height="1"/>
<rect x="68" y="528" width="5" height="1"/>
<rect x="278" y="528" width="4" height="1"/>
<rect x="68" y="526" width="5" height="1"/>
<rect x="278" y="526" width="4" height="1"/>
<rect x="68" y="575" width="9" height="1"/>
<rect x="274" y="575" width="8" height="1"/>
<rect x="68" y="612" width="5" height="1"/>
<rect x="278" y="612" width="4" height="1"/>
<rect x="68" y="602" width="5" height="1"/>
<rect x="278" y="602" width="4" height="1"/>
<rect x="68" y="596" width="5" height="1"/>
<rect x="278" y="596" width="4" height="1"/>
<rect x="68" y="591" width="5" height="1"/>
<rect x="278" y="591" width="4" height="1"/>
<rect x="68" y="587" width="5" height="1"/>
<rect x="278" y="587" width="4" height="1"/>
<rect x="68" y="583" width="5" height="1"/>
<rect x="278" y="583" width="4" height="1"/>
<rect x="68" y="580" width="5" height="1"/>
<rect x="278" y="580" width="4" height="1"/>
<rect x="68" y="578" width="5" height="1"/>
<rect x="278" y="578" width="4" height="1"/>
<rect x="100" y="624" width="1" height="4"/>
<rect x="100" y="367" width="1" height="5"/>
<rect x="119" y="624" width="1" height="4"/>
<rect x="119" y="367" width="1" height="5"/>
<rect x="132" y="624" width="1" height="4"/>
<rect x="132" y="367" width="1" height="5"/>
<rect x="143" y="624" width="1" height="4"/>
<rect x="143" y="367" width="1" height="5"/>
<rect x="151" y="624" width="1" height="4"/>
<rect x="151" y="367" width="1" height="5"/>
<rect x="158" y="624" width="1" height="4"/>
<rect x="158" y="367" width="1" height="5"/>
<rect x="164" y="624" width="1" height="4"/>
<rect x="164" y="367" width="1" height="5"/>
<rect x="170" y="624" width="1" height="4"/>
<rect x="170" y="367" width="1" height="5"/>
<rect x="175" y="620" width="1" height="8"/>
<rect x="175" y="367" width="1" height="8"/>
<rect x="207" y="624" width="1" height="4"/>
<rect x="207" y="367" width="1" height="5"/>
<rect x="225" y="624" width="1" height="4"/>
<rect x="225" y="367" width="1" height="5"/>
<rect x="239" y="624" width="1" height="4"/>
<rect x="239" y="367" width="1" height="5"/>
<rect x="249" y="624" width="1" height="4"/>
<rect x="249" y="367" width="1" height="5"/>
<rect x="257" y="624" width="1" height="4"/>
<rect x="257" y="367" width="1" height="5"/>
<rect x="265" y="624" width="1" height="4"/>
<rect x="265" y="367" width="1" height="5"/>
<rect x="271" y="624" width="1" height="4"/>
<rect x="271" y="367" width="1" height="5"/>
<rect x="276" y="624" width="1" height="4"/>
<rect x="276" y="367" width="1" height="5"/>
<rect x="58" y="360" width="2" height="1"/>
<rect x="60" y="361" width="1" height="1"/>
<rect x="60" y="362" width="1" height="1"/>
<rect x="60" y="363" width="1" height="1"/>
<rect x="59" y="364" width="1" height="1"/>
<rect x="58" y="366" width="4" height="1"/>
<rect x="51" y="366" width="4" height="1"/>
<rect x="51" y="367" width="2" height="1"/>
<rect x="55" y="367" width="1" height="1"/>
<rect x="51" y="368" width="1" height="1"/>
<rect x="56" y="368" width="1" height="1"/>
<rect x="51" y="369" width="1" height="1"/>
<rect x="56" y="369" width="1" height="1"/>
<rect x="51" y="370" width="1" height="1"/>
<rect x="56" y="370" width="1" height="1"/>
<rect x="51" y="371" width="1" height="1"/>
<rect x="56" y="371" width="1" height="1"/>
<rect x="51" y="372" width="1" height="1"/>
<rect x="56" y="372" width="1" height="1"/>
<rect x="51" y="373" width="2" height="1"/>
<rect x="55" y="373" width="1" height="1"/>
<rect x="52" y="374" width="3" height="1"/>
<rect x="46" y="366" width="1" height="1"/>
<rect x="46" y="367" width="1" height="1"/>
<rect x="46" y="368" width="1" height="1"/>
<rect x="46" y="369" width="1" height="1"/>
<rect x="46" y="370" width="1" height="1"/>
<rect x="46" y="371" width="1" height="1"/>
<rect x="46" y="372" width="1" height="1"/>
<rect x="46" y="373" width="1" height="1"/>
<rect x="46" y="374" width="3" height="1"/>
<rect x="60" y="412" width="1" height="1"/>
<rect x="60" y="413" width="1" height="1"/>
<rect x="60" y="414" width="1" height="1"/>
<rect x="60" y="415" width="1" height="1"/>
<rect x="60" y="416" width="1" height="1"/>
<rect x="60" y="417" width="1" height="1"/>
<rect x="59" y="418" width="3" height="1"/>
<rect x="52" y="418" width="4" height="1"/>
<rect x="52" y="419" width="2" height="1"/>
<rect x="56" y="419" width="1" height="1"/>
<rect x="52" y="420" width="1" height="1"/>
<rect x="57" y="420" width="1" height="1"/>
<rect x="52" y="421" width="1" height="1"/>
<rect x="57" y="421" width="1" height="1"/>
<rect x="52" y="422" width="1" height="1"/>
<rect x="57" y="422" width="1" height="1"/>
<rect x="52" y="423" width="1" height="1"/>
<rect x="57" y="423" width="1" height="1"/>
<rect x="52" y="424" width="1" height="1"/>
<rect x="57" y="424" width="1" height="1"/>
<rect x="52" y="425" width="2" height="1"/>
<rect x="56" y="425" width="1" height="1"/>
<rect x="53" y="426" width="3" height="1"/>
<rect x="47" y="418" width="1" height="1"/>
<rect x="47" y="419" width="1" height="1"/>
<rect x="47" y="420" width="1" height="1"/>
<rect x="47" y="421" width="1" height="1"/>
<rect x="47" y="422" width="1" height="1"/>
<rect x="47" y="423" width="1" height="1"/>
<rect x="47" y="424" width="1" height="1"/>
<rect x="47" y="425" width="1" height="1"/>
<rect x="47" y="426" width="3" height="1"/>
<rect x="59" y="468" width="1" height="1"/>
<rect x="59" y="469" width="1" height="1"/>
<rect x="59" y="470" width="1" height="1"/>
<rect x="59" y="471" width="1" height="1"/>
<rect x="59" y="472" width="1" height="1"/>
<rect x="59" y="473" width="1" height="1"/>
<rect x="59" y="474" width="1" height="1"/>
<rect x="59" y="475" width="1" height="1"/>
<rect x="59" y="476" width="3" height="1"/>
<rect x="56" y="520" width="2" height="1"/>
<rect x="60" y="516" width="1" height="1"/>
<rect x="60" y="517" width="1" height="1"/>
<rect x="60" y="518" width="1" height="1"/>
<rect x="60" y="519" width="1" height="1"/>
<rect x="60" y="520" width="1" height="1"/>
<rect x="60" y="521" width="1" height="1"/>
<rect x="59" y="522" width="3" height="1"/>
<rect x="49" y="522" width="4" height="1"/>
<rect x="49" y="523" width="2" height="1"/>
<rect x="53" y="523" width="1" height="1"/>
<rect x="49" y="524" width="1" height="1"/>
<rect x="54" y="524" width="1" height="1"/>
<rect x="49" y="525" width="1" height="1"/>
<rect x="54" y="525" width="1" height="1"/>
<rect x="49" y="526" width="1" height="1"/>
<rect x="54" y="526" width="1" height="1"/>
<rect x="49" y="527" width="1" height="1"/>
<rect x="54" y="527" width="1" height="1"/>
<rect x="49" y="528" width="1" height="1"/>
<rect x="54" y="528" width="1" height="1"/>
<rect x="49" y="529" width="2" height="1"/>
<rect x="53" y="529" width="1" height="1"/>
<rect x="50" y="530" width="3" height="1"/>
<rect x="44" y="522" width="1" height="1"/>
<rect x="44" y="523" width="1" height="1"/>
<rect x="44" y="524" width="1" height="1"/>
<rect x="44" y="525" width="1" height="1"/>
<rect x="44" y="526" width="1" height="1"/>
<rect x="44" y="527" width="1" height="1"/>
<rect x="44" y="528" width="1" height="1"/>
<rect x="44" y="529" width="1" height="1"/>
<rect x="44" y="530" width="3" height="1"/>
<rect x="55" y="572" width="2" height="1"/>
<rect x="58" y="568" width="2" height="1"/>
<rect x="60" y="569" width="1" height="1"/>
<rect x="60" y="570" width="1" height="1"/>
<rect x="60" y="571" width="1" height="1"/>
<rect x="59" y="572" width="1" height="1"/>
<rect x="58" y="574" width="4" height="1"/>
<rect x="48" y="574" width="4" height="1"/>
<rect x="48" y="575" width="2" height="1"/>
<rect x="52" y="575" width="1" height="1"/>
<rect x="48" y="576" width="1" height="1"/>
<rect x="53" y="576" width="1" height="1"/>
<rect x="48" y="577" width="1" height="1"/>
<rect x="53" y="577" width="1" height="1"/>
<rect x="48" y="578" width="1" height="1"/>
<rect x="53" y="578" width="1" height="1"/>
<rect x="48" y="579" width="1" height="1"/>
<rect x="53" y="579" width="1" height="1"/>
<rect x="48" y="580" width="1" height="1"/>
<rect x="53" y="580" width="1" height="1"/>
<rect x="48" y="581" width="2" height="1"/>
<rect x="52" y="581" width="1" height="1"/>
<rect x="49" y="582" width="3" height="1"/>
<rect x="43" y="574" width="1" height="1"/>
<rect x="43" y="575" width="1" height="1"/>
<rect x="43" y="576" width="1" height="1"/>
<rect x="43" y="577" width="1" height="1"/>
<rect x="43" y="578" width="1" height="1"/>
<rect x="43" y="579" width="1" height="1"/>
<rect x="43" y="580" width="1" height="1"/>
<rect x="43" y="581" width="1" height="1"/>
<rect x="43" y="582" width="3" height="1"/>
<rect x="55" y="624" width="2" height="1"/>
<rect x="59" y="620" width="3" height="1"/>
<rect x="61" y="621" width="1" height="1"/>
<rect x="61" y="622" width="1" height="1"/>
<rect x="60" y="623" width="2" height="1"/>
<rect x="61" y="624" width="1" height="1"/>
<rect x="61" y="625" width="1" height="1"/>
<rect x="59" y="626" width="3" height="1"/>
<rect x="48" y="626" width="4" height="1"/>
<rect x="48" y="627" width="2" height="1"/>
<rect x="52" y="627" width="1" height="1"/>
<rect x="48" y="628" width="1" height="1"/>
<rect x="53" y="628" width="1" height="1"/>
<rect x="48" y="629" width="1" height="1"/>
<rect x="53" y="629" width="1" height="1"/>
<rect x="48" y="630" width="1" height="1"/>
<rect x="53" y="630" width="1" height="1"/>
<rect x="48" y="631" width="1" height="1"/>
<rect x="53" y="631" width="1" height="1"/>
<rect x="48" y="632" width="1" height="1"/>
<rect x="53" y="632" width="1" height="1"/>
<rect x="48" y="633" width="2" height="1"/>
<rect x="52" y="633" width="1" height="1"/>
<rect x="49" y="634" width="3" height="1"/>
<rect x="43" y="626" width="1" height="1"/>
<rect x="43" y="627" width="1" height="1"/>
<rect x="43" y="628" width="1" height="1"/>
<rect x="43" y="629" width="1" height="1"/>
<rect x="43" y="630" width="1" height="1"/>
<rect x="43" y="631" width="1" height="1"/>
<rect x="43" y="632" width="1" height="1"/>
<rect x="43" y="633" width="1" height="1"/>
<rect x="43" y="634" width="3" height="1"/>
<rect x="62" y="635" width="1" height="1"/>
<rect x="62" y="636" width="1" height="1"/>
<rect x="62" y="637" width="1" height="1"/>
<rect x="62" y="638" width="1" height="1"/>
<rect x="62" y="639" width="1" height="1"/>
<rect x="62" y="640" width="1" height="1"/>
<rect x="62" y="641" width="1" height="1"/>
<rect x="62" y="642" width="1" height="1"/>
<rect x="62" y="643" width="3" height="1"/>
<rect x="67" y="635" width="4" height="1"/>
<rect x="67" y="636" width="2" height="1"/>
<rect x="71" y="636" width="1" height="1"/>
<rect x="67" y="637" width="1" height="1"/>
<rect x="72" y="637" width="1" height="1"/>
<rect x="67" y="638" width="1" height="1"/>
<rect x="72" y="638" width="1" height="1"/>
<rect x="67" y="639" width="1" height="1"/>
<rect x="72" y="639" width="1" height="1"/>
<rect x="67" y="640" width="1" height="1"/>
<rect x="72" y="640" width="1" height="1"/>
<rect x="67" y="641" width="1" height="1"/>
<rect x="72" y="641" width="1" height="1"/>
<rect x="67" y="642" width="2" height="1"/>
<rect x="71" y="642" width="1" height="1"/>
<rect x="68" y="643" width="3" height="1"/>
<rect x="75" y="629" width="1" height="1"/>
<rect x="75" y="630" width="1" height="1"/>
<rect x="75" y="631" width="1" height="1"/>
<rect x="75" y="632" width="1" height="1"/>
<rect x="75" y="633" width="1" height="1"/>
<rect x="75" y="634" width="1" height="1"/>
<rect x="74" y="635" width="3" height="1"/>
<rect x="168" y="635" width="1" height="1"/>
<rect x="168" y="636" width="1" height="1"/>
<rect x="168" y="637" width="1" height="1"/>
<rect x="168" y="638" width="1" height="1"/>
<rect x="168" y="639" width="1" height="1"/>
<rect x="168" y="640" width="1" height="1"/>
<rect x="168" y="641" width="1" height="1"/>
<rect x="168" y="642" width="1" height="1"/>
<rect x="168" y="643" width="3" height="1"/>
<rect x="173" y="635" width="4" height="1"/>
<rect x="173" y="636" width="2" height="1"/>
<rect x="177" y="636" width="1" height="1"/>
<rect x="173" y="637" width="1" height="1"/>
<rect x="178" y="637" width="1" height="1"/>
<rect x="173" y="638" width="1" height="1"/>
<rect x="178" y="638" width="1" height="1"/>
<rect x="173" y="639" width="1" height="1"/>
<rect x="178" y="639" width="1" height="1"/>
<rect x="173" y="640" width="1" height="1"/>
<rect x="178" y="640" width="1" height="1"/>
<rect x="173" y="641" width="1" height="1"/>
<rect x="178" y="641" width="1" height="1"/>
<rect x="173" y="642" width="2" height="1"/>
<rect x="177" y="642" width="1" height="1"/>
<rect x="174" y="643" width="3" height="1"/>
<rect x="180" y="629" width="2" height="1"/>
<rect x="182" y="630" width="1" height="1"/>
<rect x="182" y="631" width="1" height="1"/>
<rect x="182" y="632" width="1" height="1"/>
<rect x="181" y="633" width="1" height="1"/>
<rect x="180" y="635" width="4" height="1"/>
<rect x="275" y="635" width="1" height="1"/>
<rect x="275" y="636" width="1" height="1"/>
<rect x="275" y="637" width="1" height="1"/>
<rect x="275" y="638" width="1" height="1"/>
<rect x="275" y="639" width="1" height="1"/>
<rect x="275" y="640" width="1" height="1"/>
<rect x="275" y="641" width="1" height="1"/>
<rect x="275" y="642" width="1" height="1"/>
<rect x="275" y="643" width="3" height="1"/>
<rect x="280" y="635" width="4" height="1"/>
<rect x="280" y="636" width="2" height="1"/>
<rect x="284" y="636" width="1" height="1"/>
<rect x="280" y="637" width="1" height="1"/>
<rect x="285" y="637" width="1" height="1"/>
<rect x="280" y="638" width="1" height="1"/>
<rect x="285" y="638" width="1" height="1"/>
<rect x="280" y="639" width="1" height="1"/>
<rect x="285" y="639" width="1" height="1"/>
<rect x="280" y="640" width="1" height="1"/>
<rect x="285" y="640" width="1" height="1"/>
<rect x="280" y="641" width="1" height="1"/>
<rect x="285" y="641" width="1" height="1"/>
<rect x="280" y="642" width="2" height="1"/>
<rect x="284" y="642" width="1" height="1"/>
<rect x="281" y="643" width="3" height="1"/>
<rect x="287" y="629" width="3" height="1"/>
<rect x="289" y="630" width="1" height="1"/>
<rect x="289" y="631" width="1" height="1"/>
<rect x="288" y="632" width="2" height="1"/>
<rect x="289" y="633" width="1" height="1"/>
<rect x="289" y="634" width="1" height="1"/>
<rect x="287" y="635" width="3" height="1"/>
<rect x="106" y="414" width="7" height="1"/>
<rect x="109" y="414" width="1" height="2"/>
<rect x="112" y="419" width="7" height="1"/>
<rect x="115" y="419" width="1" height="1"/>
<rect x="118" y="422" width="6" height="1"/>
<rect x="120" y="422" width="1" height="2"/>
<rect x="123" y="428" width="5" height="1"/>
<rect x="125" y="428" width="1" height="2"/>
<rect x="127" y="432" width="5" height="1"/>
<rect x="129" y="432" width="1" height="2"/>
<rect x="131" y="435" width="5" height="1"/>
<rect x="133" y="434" width="1" height="2"/>
<rect x="135" y="439" width="5" height="1"/>
<rect x="137" y="439" width="1" height="2"/>
<rect x="139" y="444" width="4" height="1"/>
<rect x="141" y="444" width="1" height="1"/>
<rect x="142" y="450" width="4" height="1"/>
<rect x="143" y="449" width="1" height="2"/>
<rect x="145" y="454" width="4" height="1"/>
<rect x="146" y="454" width="1" height="2"/>
<rect x="148" y="459" width="3" height="1"/>
<rect x="149" y="458" width="1" height="2"/>
<rect x="150" y="462" width="4" height="1"/>
<rect x="152" y="462" width="1" height="2"/>
<rect x="153" y="469" width="3" height="1"/>
<rect x="154" y="468" width="1" height="2"/>
<rect x="155" y="472" width="4" height="1"/>
<rect x="156" y="471" width="1" height="3"/>
<rect x="158" y="476" width="3" height="1"/>
<rect x="159" y="475" width="1" height="2"/>
<rect x="160" y="479" width="3" height="1"/>
<rect x="161" y="478" width="1" height="3"/>
<rect x="162" y="485" width="3" height="1"/>
<rect x="163" y="484" width="1" height="3"/>
<rect x="165" y="492" width="4" height="1"/>
<rect x="166" y="491" width="1" height="3"/>
<rect x="168" y="498" width="4" height="1"/>
<rect x="169" y="497" width="1" height="3"/>
<rect x="171" y="507" width="4" height="1"/>
<rect x="172" y="506" width="1" height="3"/>
<rect x="174" y="514" width="4" height="1"/>
<rect x="175" y="513" width="1" height="3"/>
<rect x="177" y="520" width="4" height="1"/>
<rect x="178" y="519" width="1" height="4"/>
<rect x="180" y="532" width="3" height="1"/>
<rect x="181" y="530" width="1" height="5"/>
<rect x="182" y="540" width="4" height="1"/>
<rect x="183" y="538" width="1" height="6"/>
<rect x="185" y="541" width="3" height="1"/>
<rect x="186" y="538" width="1" height="7"/>
<rect x="187" y="548" width="3" height="1"/>
<rect x="188" y="545" width="1" height="8"/>
<rect x="189" y="563" width="4" height="1"/>
<rect x="191" y="559" width="1" height="10"/>
<rect x="192" y="567" width="4" height="1"/>
<rect x="194" y="563" width="1" height="11"/>
<rect x="195" y="615" width="4" height="1"/>
<rect x="197" y="600" width="1" height="28"/>
<rect x="203" y="626" width="4" height="1"/>
<rect x="204" y="601" width="1" height="27"/>
<rect x="204" y="601" width="2" height="1"/>
<rect x="205" y="601" width="1" height="1"/>
<rect x="446" y="367" width="214" height="1"/>
<rect x="446" y="627" width="214" height="1"/>
<rect x="446" y="367" width="1" height="261"/>
<rect x="659" y="367" width="1" height="261"/>
<rect x="446" y="404" width="5" height="1"/>
<rect x="656" y="404" width="4" height="1"/>
<rect x="446" y="395" width="5" height="1"/>
<rect x="656" y="395" width="4" height="1"/>
<rect x="446" y="388" width="5" height="1"/>
<rect x="656" y="388" width="4" height="1"/>
<rect x="446" y="383" width="5" height="1"/>
<rect x="656" y="383" width="4" height="1"/>
<rect x="446" y="379" width="5" height="1"/>
<rect x="656" y="379" width="4" height="1"/>
<rect x="446" y="375" width="5" height="1"/>
<rect x="656" y="375" width="4" height="1"/>
<rect x="446" y="372" width="5" height="1"/>
<rect x="656" y="372" width="4" height="1"/>
<rect x="446" y="370" width="5" height="1"/>
<rect x="656" y="370" width="4" height="1"/>
<rect x="446" y="419" width="9" height="1"/>
<rect x="652" y="419" width="8" height="1"/>
<rect x="446" y="456" width="5" height="1"/>
<rect x="656" y="456" width="4" height="1"/>
<rect x="446" y="446" width="5" height="1"/>
<rect x="656" y="446" width="4" height="1"/>
<rect x="446" y="440" width="5" height="1"/>
<rect x="656" y="440" width="4" height="1"/>
<rect x="446" y="435" width="5" height="1"/>
<rect x="656" y="435" width="4" height="1"/>
<rect x="446" y="431" width="5" height="1"/>
<rect x="656" y="431" width="4" height="1"/>
<rect x="446" y="427" width="5" height="1"/>
<rect x="656" y="427" width="4" height="1"/>
<rect x="446" y="424" width="5" height="1"/>
<rect x="656" y="424" width="4" height="1"/>
<rect x="446" y="422" width="5" height="1"/>
<rect x="656" y="422" width="4" height="1"/>
<rect x="446" y="471" width="9" height="1"/>
<rect x="652" y="471" width="8" height="1"/>
<rect x="446" y="508" width="5" height="1"/>
<rect x="656" y="508" width="4" height="1"/>
<rect x="446" y="498" width="5" height="1"/>
<rect x="656" y="498" width="4" height="1"/>
<rect x="446" y="492" width="5" height="1"/>
<rect x="656" y="492" width="4" height="1"/>
<rect x="446" y="487" width="5" height="1"/>
<rect x="656" y="487" width="4" height="1"/>
<rect x="446" y="483" width="5" height="1"/>
<rect x="656" y="483" width="4" height="1"/>
<rect x="446" y="479" width="5" height="1"/>
<rect x="656" y="479" width="4" height="1"/>
<rect x="446" y="476" width="5" height="1"/>
<rect x="656" y="476" width="4" height="1"/>
<rect x="446" y="474" width="5" height="1"/>
<rect x="656" y="474" width="4" height="1"/>
<rect x="446" y="523" width="9" height="1"/>
<rect x="652" y="523" width="8" height="1"/>
<rect x="446" y="560" width="5" height="1"/>
<rect x="656" y="560" width="4" height="1"/>
<rect x="446" y="550" width="5" height="1"/>
<rect x="656" y="550" width="4" height="1"/>
<rect x="446" y="544" width="5" height="1"/>
<rect x="656" y="544" width="4" height="1"/>
<rect x="446" y="539" width="5" height="1"/>
<rect x="656" y="539" width="4" height="1"/>
<rect x="446" y="535" width="5" height="1"/>
<rect x="656" y="535" width="4" height="1"/>
<rect x="446" y="531" width="5" height="1"/>
<rect x="656" y="531" width="4" height="1"/>
<rect x="446" y="528" width="5" height="1"/>
<rect x="656" y="528" width="4" height="1"/>
<rect x="446" y="526" width="5" height="1"/>
<rect x="656" y="526" width="4" height="1"/>
<rect x="446" y="575" width="9" height="1"/>
<rect x="652" y="575" width="8" height="1"/>
<rect x="446" y="612" width="5" height="1"/>
<rect x="656" y="612" width="4" height="1"/>
<rect x="446" y="602" width="5" height="1"/>
<rect x="656" y="602" width="4" height="1"/>
<rect x="446" y="596" width="5" height="1"/>
<rect x="656" y="596" width="4" height="1"/>
<rect x="446" y="591" width="5" height="1"/>
<rect x="656" y="591" width="4" height="1"/>
<rect x="446" y="587" width="5" height="1"/>
<rect x="656" y="587" width="4" height="1"/>
<rect x="446" y="583" width="5" height="1"/>
<rect x="656" y="583" width="4" height="1"/>
<rect x="446" y="580" width="5" height="1"/>
<rect x="656" y="580" width="4" height="1"/>
<rect x="446" y="578" width="5" height="1"/>
<rect x="656" y="578" width="4" height="1"/>
<rect x="478" y="624" width="1" height="4"/>
<rect x="478" y="367" width="1" height="5"/>
<rect x="497" y="624" width="1" height="4"/>
<rect x="497" y="367" width="1" height="5"/>
<rect x="510" y="624" width="1" height="4"/>
<rect x="510" y="367" width="1" height="5"/>
<rect x="521" y="624" width="1" height="4"/>
<rect x="521" y="367" width="1" height="5"/>
<rect x="529" y="624" width="1" height="4"/>
<rect x="529" y="367" width="1" height="5"/>
<rect x="536" y="624" width="1" height="4"/>
<rect x="536" y="367" width="1" height="5"/>
<rect x="542" y="624" width="1" height="4"/>
<rect x="542" y="367" width="1" height="5"/>
<rect x="548" y="624" width="1" height="4"/>
<rect x="548" y="367" width="1" height="5"/>
<rect x="553" y="620" width="1" height="8"/>
<rect x="553" y="367" width="1" height="8"/>
<rect x="585" y="624" width="1" height="4"/>
<rect x="585" y="367" width="1" height="5"/>
<rect x="603" y="624" width="1" height="4"/>
<rect x="603" y="367" width="1" height="5"/>
<rect x="617" y="624" width="1" height="4"/>
<rect x="617" y="367" width="1" height="5"/>
<rect x="627" y="624" width="1" height="4"/>
<rect x="627" y="367" width="1" height="5"/>
<rect x="635" y="624" width="1" height="4"/>
<rect x="635" y="367" width="1" height="5"/>
<rect x="643" y="624" width="1" height="4"/>
<rect x="643" y="367" width="1" height="5"/>
<rect x="649" y="624" width="1" height="4"/>
<rect x="649" y="367" width="1" height="5"/>
<rect x="654" y="624" width="1" height="4"/>
<rect x="654" y="367" width="1" height="5"/>
<rect x="436" y="360" width="2" height="1"/>
<rect x="438" y="361" width="1" height="1"/>
<rect x="438" y="362" width="1" height="1"/>
<rect x="438" y="363" width="1" height="1"/>
<rect x="437" y="364" width="1" height="1"/>
<rect x="436" y="366" width="4" height="1"/>
<rect x="429" y="366" width="4" height="1"/>
<rect x="429" y="367" width="2" height="1"/>
<rect x="433" y="367" width="1" height="1"/>
<rect x="429" y="368" width="1" height="1"/>
<rect x="434" y="368" width="1" height="1"/>
<rect x="429" y="369" width="1" height="1"/>
<rect x="434" y="369" width="1" height="1"/>
<rect x="429" y="370" width="1" height="1"/>
<rect x="434" y="370" width="1" height="1"/>
<rect x="429" y="371" width="1" height="1"/>
<rect x="434" y="371" width="1" height="1"/>
<rect x="429" y="372" width="1" height="1"/>
<rect x="434" y="372" width="1" height="1"/>
<rect x="429" y="373" width="2" height="1"/>
<rect x="433" y="373" width="1" height="1"/>
<rect x="430" y="374" width="3" height="1"/>
<rect x="424" y="366" width="1" height="1"/>
<rect x="424" y="367" width="1" height="1"/>
<rect x="424" y="368" width="1" height="1"/>
<rect x="424" y="369" width="1" height="1"/>
<rect x="424" y="370" width="1" height="1"/>
<rect x="424" y="371" width="1" height="1"/>
<rect x="424" y="372" width="1" height="1"/>
<rect x="424" y="373" width="1" height="1"/>
<rect x="424" y="374" width="3" height="1"/>
<rect x="438" y="412" width="1" height="1"/>
<rect x="438" y="413" width="1" height="1"/>
<rect x="438" y="414" width="1" height="1"/>
<rect x="438" y="415" width="1" height="1"/>
<rect x="438" y="416" width="1" height="1"/>
<rect x="438" y="417" width="1" height="1"/>
<rect x="437" y="418" width="3" height="1"/>
<rect x="430" y="418" width="4" height="1"/>
<rect x="430" y="419" width="2" height="1"/>
<rect x="434" y="419" width="1" height="1"/>
<rect x="430" y="420" width="1" height="1"/>
<rect x="435" y="420" width="1" height="1"/>
<rect x="430" y="421" width="1" height="1"/>
<rect x="435" y="421" width="1" height="1"/>
<rect x="430" y="422" width="1" height="1"/>
<rect x="435" y="422" width="1" height="1"/>
<rect x="430" y="423" width="1" height="1"/>
<rect x="435" y="423" width="1" height="1"/>
<rect x="430" y="424" width="1" height="1"/>
<rect x="435" y="424" width="1" height="1"/>
<rect x="430" y="425" width="2" height="1"/>
<rect x="434" y="425" width="1" height="1"/>
<rect x="431" y="426" width="3" height="1"/>
<rect x="425" y="418" width="1" height="1"/>
<rect x="425" y="419" width="1" height="1"/>
<rect x="425" y="420" width="1" height="1"/>
<rect x="425" y="421" width="1" height="1"/>
<rect x="425" y="422" width="1" height="1"/>
<rect x="425" y="423" width="1" height="1"/>
<rect x="425" y="424" width="1" height="1"/>
<rect x="425" y="425" width="1" height="1"/>
<rect x="425" y="426" width="3" height="1"/>
<rect x="437" y="468" width="1" height="1"/>
<rect x="437" y="469" width="1" height="1"/>
<rect x="437" y="470" width="1" height="1"/>
<rect x="437" y="471" width="1" height="1"/>
<rect x="437" y="472" width="1" height="1"/>
<rect x="437" y="473" width="1" height="1"/>
<rect x="437" y="474" width="1" height="1"/>
<rect x="437" y="475" width="1" height="1"/>
<rect x="437" y="476" width="3" height="1"/>
<rect x="434" y="520" width="2" height="1"/>
<rect x="438" y="516" width="1" height="1"/>
<rect x="438" y="517" width="1" height="1"/>
<rect x="438" y="518" width="1" height="1"/>
<rect x="438" y="519" width="1" height="1"/>
<rect x="438" y="520" width="1" height="1"/>
<rect x="438" y="521" width="1" height="1"/>
<rect x="437" y="522" width="3" height="1"/>
<rect x="427" y="522" width="4" height="1"/>
<rect x="427" y="523" width="2" height="1"/>
<rect x="431" y="523" width="1" height="1"/>
<rect x="427" y="524" width="1" height="1"/>
<rect x="432" y="524" width="1" height="1"/>
<rect x="427" y="525" width="1" height="1"/>
<rect x="432" y="525" width="1" height="1"/>
<rect x="427" y="526" width="1" height="1"/>
<rect x="432" y="526" width="1" height="1"/>
<rect x="427" y="527" width="1" height="1"/>
<rect x="432" y="527" width="1" height="1"/>
<rect x="427" y="528" width="1" height="1"/>
<rect x="432" y="528" width="1" height="1"/>
<rect x="427" y="529" width="2" height="1"/>
<rect x="431" y="529" width="1" height="1"/>
<rect x="428" y="530" width="3" height="1"/>
<rect x="422" y="522" width="1" height="1"/>
<rect x="422" y="523" width="1" height="1"/>
<rect x="422" y="524" width="1" height="1"/>
<rect x="422" y="525" width="1" height="1"/>
<rect x="422" y="526" width="1" height="1"/>
<rect x="422" y="527" width="1" height="1"/>
<rect x="422" y="528" width="1" height="1"/>
<rect x="422" y="529" width="1" height="1"/>
<rect x="422" y="530" width="3" height="1"/>
<rect x="433" y="572" width="2" height="1"/>
<rect x="436" y="568" width="2" height="1"/>
<rect x="438" y="569" width="1" height="1"/>
<rect x="438" y="570" width="1" height="1"/>
<rect x="438" y="571" width="1" height="1"/>
<rect x="437" y="572" width="1" height="1"/>
<rect x="436" y="574" width="4" height="1"/>
<rect x="426" y="574" width="4" height="1"/>
<rect x="426" y="575" width="2" height="1"/>
<rect x="430" y="575" width="1" height="1"/>
<rect x="426" y="576" width="1" height="1"/>
<rect x="431" y="576" width="1" height="1"/>
<rect x="426" y="577" width="1" height="1"/>
<rect x="431" y="577" width="1" height="1"/>
<rect x="426" y="578" width="1" height="1"/>
<rect x="431" y="578" width="1" height="1"/>
<rect x="426" y="579" width="1" height="1"/>
<rect x="431" y="579" width="1" height="1"/>
<rect x="426" y="580" width="1" height="1"/>
<rect x="431" y="580" width="1" height="1"/>
<rect x="426" y="581" width="2" height="1"/>
<rect x="430" y="581" width="1" height="1"/>
<rect x="427" y="582" width="3" height="1"/>
<rect x="421" y="574" width="1" height="1"/>
<rect x="421" y="575" width="1" height="1"/>
<rect x="421" y="576" width="1" height="1"/>
<rect x="421" y="577" width="1" height="1"/>
<rect x="421" y="578" width="1" height="1"/>
<rect x="421" y="579" width="1" height="1"/>
<rect x="421" y="580" width="1" height="1"/>
<rect x="421" y="581" width="1" height="1"/>
<rect x="421" y="582" width="3" height="1"/>
<rect x="433" y="624" width="2" height="1"/>
<rect x="437" y="620" width="3" height="1"/>
<rect x="439" y="621" width="1" height="1"/>
<rect x="439" y="622" width="1" height="1"/>
<rect x="438" y="623" width="2" height="1"/>
<rect x="439" y="624" width="1" height="1"/>
<rect x="439" y="625" width="1" height="1"/>
<rect x="437" y="626" width="3" height="1"/>
<rect x="426" y="626" width="4" height="1"/>
<rect x="426" y="627" width="2" height="1"/>
<rect x="430" y="627" width="1" height="1"/>
<rect x="426" y="628" width="1" height="1"/>
<rect x="431" y="628" width="1" height="1"/>
<rect x="426" y="629" width="1" height="1"/>
<rect x="431" y="629" width="1" height="1"/>
<rect x="426" y="630" width="1" height="1"/>
<rect x="431" y="630" width="1" height="1"/>
<rect x="426" y="631" width="1" height="1"/>
<rect x="431" y="631" width="1" height="1"/>
<rect x="426" y="632" width="1" height="1"/>
<rect x="431" y="632" width="1" height="1"/>
<rect x="426" y="633" width="2" height="1"/>
<rect x="430" y="633" width="1" height="1"/>
<rect x="427" y="634" width="3" height="1"/>
<rect x="421" y="626" width="1" height="1"/>
<rect x="421" y="627" width="1" height="1"/>
<rect x="421" y="628" width="1" height="1"/>
<rect x="421" y="629" width="1" height="1"/>
<rect x="421" y="630" width="1" height="1"/>
<rect x="421" y="631" width="1" height="1"/>
<rect x="421" y="632" width="1" height="1"/>
<rect x="421" y="633" width="1" height="1"/>
<rect x="421" y="634" width="3" height="1"/>
<rect x="440" y="635" width="1" height="1"/>
<rect x="440" y="636" width="1" height="1"/>
<rect x="440" y="637" width="1" height="1"/>
<rect x="440" y="638" width="1" height="1"/>
<rect x="440" y="639" width="1" height="1"/>
<rect x="440" y="640" width="1" height="1"/>
<rect x="440" y="641" width="1" height="1"/>
<rect x="440" y="642" width="1" height="1"/>
<rect x="440" y="643" width="3" height="1"/>
<rect x="445" y="635" width="4" height="1"/>
<rect x="445" y="636" width="2" height="1"/>
<rect x="449" y="636" width="1" height="1"/>
<rect x="445" y="637" width="1" height="1"/>
<rect x="450" y="637" width="1" height="1"/>
<rect x="445" y="638" width="1" height="1"/>
<rect x="450" y="638" width="1" height="1"/>
<rect x="445" y="639" width="1" height="1"/>
<rect x="450" y="639" width="1" height="1"/>
<rect x="445" y="640" width="1" height="1"/>
<rect x="450" y="640" width="1" height="1"/>
<rect x="445" y="641" width="1" height="1"/>
<rect x="450" y="641" width="1" height="1"/>
<rect x="445" y="642" width="2" height="1"/>
<rect x="449" y="642" width="1" height="1"/>
<rect x="446" y="643" width="3" height="1"/>
<rect x="453" y="629" width="1" height="1"/>
<rect x="453" y="630" width="1" height="1"/>
<rect x="453" y="631" width="1" height="1"/>
<rect x="453" y="632" width="1" height="1"/>
<rect x="453" y="633" width="1" height="1"/>
<rect x="453" y="634" width="1" height="1"/>
<rect x="452" y="635" width="3" height="1"/>
<rect x="546" y="635" width="1" height="1"/>
<rect x="546" y="636" width="1" height="1"/>
<rect x="546" y="637" width="1" height="1"/>
<rect x="546" y="638" width="1" height="1"/>
<rect x="546" y="639" width="1" height="1"/>
<rect x="546" y="640" width="1" height="1"/>
<rect x="546" y="641" width="1" height="1"/>
<rect x="546" y="642" width="1" height="1"/>
<rect x="546" y="643" width="3" height="1"/>
<rect x="551" y="635" width="4" height="1"/>
<rect x="551" y="636" width="2" height="1"/>
<rect x="555" y="636" width="1" height="1"/>
<rect x="551" y="637" width="1" height="1"/>
<rect x="556" y="637" width="1" height="1"/>
<rect x="551" y="638" width="1" height="1"/>
<rect x="556" y="638" width="1" height="1"/>
<rect x="551" y="639" width="1" height="1"/>
<rect x="556" y="639" width="1" height="1"/>
<rect x="551" y="640" width="1" height="1"/>
<rect x="556" y="640" width="1" height="1"/>
<rect x="551" y="641" width="1" height="1"/>
<rect x="556" y="641" width="1" height="1"/>
<rect x="551" y="642" width="2" height="1"/>
<rect x="555" y="642" width="1" height="1"/>
<rect x="552" y="643" width="3" height="1"/>
<rect x="558" y="629" width="2" height="1"/>
<rect x="560" y="630" width="1" height="1"/>
<rect x="560" y="631" width="1" height="1"/>
<rect x="560" y="632" width="1" height="1"/>
<rect x="559" y="633" width="1" height="1"/>
<rect x="558" y="635" width="4" height="1"/>
<rect x="653" y="635" width="1" height="1"/>
<rect x="653" y="636" width="1" height="1"/>
<rect x="653" y="637" width="1" height="1"/>
<rect x="653" y="638" width="1" height="1"/>
<rect x="653" y="639" width="1" height="1"/>
<rect x="653" y="640" width="1" height="1"/>
<rect x="653" y="641" width="1" height="1"/>
<rect x="653" y="642" width="1" height="1"/>
<rect x="653" y="643" width="3" height="1"/>
<rect x="658" y="635" width="4" height="1"/>
<rect x="658" y="636" width="2" height="1"/>
<rect x="662" y="636" width="1" height="1"/>
<rect x="658" y="637" width="1" height="1"/>
<rect x="663" y="637" width="1" height="1"/>
<rect x="658" y="638" width="1" height="1"/>
<rect x="663" y="638" width="1" height="1"/>
<rect x="658" y="639" width="1" height="1"/>
<rect x="663" y="639" width="1" height="1"/>
<rect x="658" y="640" width="1" height="1"/>
<rect x="663" y="640" width="1" height="1"/>
<rect x="658" y="641" width="1" height="1"/>
<rect x="663" y="641" width="1" height="1"/>
<rect x="658" y="642" width="2" height="1"/>
<rect x="662" y="642" width="1" height="1"/>
<rect x="659" y="643" width="3" height="1"/>
<rect x="665" y="629" width="3" height="1"/>
<rect x="667" y="630" width="1" height="1"/>
<rect x="667" y="631" width="1" height="1"/>
<rect x="666" y="632" width="2" height="1"/>
<rect x="667" y="633" width="1" height="1"/>
<rect x="667" y="634" width="1" height="1"/>
<rect x="665" y="635" width="3" height="1"/>
<rect x="484" y="415" width="7" height="1"/>
<rect x="487" y="415" width="1" height="1"/>
<rect x="490" y="423" width="6" height="1"/>
<rect x="493" y="422" width="1" height="2"/>
<rect x="495" y="429" width="7" height="1"/>
<rect x="498" y="428" width="1" height="2"/>
<rect x="501" y="433" width="5" height="1"/>
<rect x="503" y="433" width="1" height="2"/>
<rect x="505" y="438" width="5" height="1"/>
<rect x="507" y="437" width="1" height="2"/>
<rect x="509" y="442" width="5" height="1"/>
<rect x="511" y="441" width="1" height="2"/>
<rect x="513" y="446" width="5" height="1"/>
<rect x="515" y="446" width="1" height="2"/>
<rect x="517" y="452" width="4" height="1"/>
<rect x="519" y="452" width="1" height="2"/>
<rect x="520" y="457" width="4" height="1"/>
<rect x="522" y="457" width="1" height="1"/>
<rect x="523" y="463" width="4" height="1"/>
<rect x="525" y="463" width="1" height="2"/>
<rect x="526" y="468" width="3" height="1"/>
<rect x="527" y="468" width="1" height="2"/>
<rect x="528" y="472" width="4" height="1"/>
<rect x="530" y="472" width="1" height="2"/>
<rect x="531" y="479" width="3" height="1"/>
<rect x="532" y="478" width="1" height="2"/>
<rect x="533" y="482" width="3" height="1"/>
<rect x="534" y="481" width="1" height="3"/>
<rect x="535" y="488" width="4" height="1"/>
<rect x="537" y="488" width="1" height="2"/>
<rect x="538" y="491" width="3" height="1"/>
<rect x="539" y="490" width="1" height="3"/>
<rect x="540" y="496" width="3" height="1"/>
<rect x="541" y="495" width="1" height="3"/>
<rect x="543" y="504" width="4" height="1"/>
<rect x="544" y="503" width="1" height="3"/>
<rect x="545" y="512" width="5" height="1"/>
<rect x="547" y="511" width="1" height="4"/>
<rect x="549" y="522" width="4" height="1"/>
<rect x="550" y="521" width="1" height="4"/>
<rect x="552" y="531" width="4" height="1"/>
<rect x="553" y="529" width="1" height="5"/>
<rect x="555" y="543" width="4" height="1"/>
<rect x="556" y="540" width="1" height="7"/>
<rect x="558" y="546" width="3" height="1"/>
<rect x="559" y="543" width="1" height="7"/>
<rect x="563" y="551" width="3" height="1"/>
<rect x="564" y="548" width="1" height="8"/>
<rect x="560" y="557" width="4" height="1"/>
<rect x="561" y="553" width="1" height="10"/>
<rect x="565" y="581" width="3" height="1"/>
<rect x="566" y="572" width="1" height="24"/>
<rect x="567" y="575" width="4" height="1"/>
<rect x="569" y="569" width="1" height="15"/>
<rect x="571" y="580" width="3" height="1"/>
<rect x="572" y="574" width="1" height="15"/>
<rect x="576" y="616" width="4" height="1"/>
<rect x="577" y="601" width="1" height="27"/>
</g>
<g>
<text x="149" y="64.5" font-size="16.4" stroke-width="0.05">4.352-5.376 s</text>
<text x="149.5" y="335.5" font-size="18.7">E, keV</text>
<text transform="translate(37,252) rotate(-90)" font-size="19">Photons cm<tspan dy="-12" font-size="13"><tspan font-weight="bold" dx="0.6">-</tspan><tspan dx="-0.4">2</tspan></tspan><tspan dy="12" dx="-0.2"> s</tspan><tspan dy="-12" font-size="13"><tspan font-weight="bold" dx="1.1">-</tspan><tspan dx="-0.6">1</tspan></tspan><tspan dy="12" dx="0.5"> keV</tspan><tspan dy="-12" font-size="13"><tspan font-weight="bold" dx="0.3">-</tspan><tspan dx="-0.6">1</tspan></tspan></text>
<text x="527" y="64.5" font-size="16.4" stroke-width="0.05">12.544-13.568 s</text>
<text x="527.5" y="335.5" font-size="18.7">E, keV</text>
<text transform="translate(415,252) rotate(-90)" font-size="19">Photons cm<tspan dy="-12" font-size="13"><tspan font-weight="bold" dx="0.6">-</tspan><tspan dx="-0.4">2</tspan></tspan><tspan dy="12" dx="-0.2"> s</tspan><tspan dy="-12" font-size="13"><tspan font-weight="bold" dx="1.1">-</tspan><tspan dx="-0.6">1</tspan></tspan><tspan dy="12" dx="0.5"> keV</tspan><tspan dy="-12" font-size="13"><tspan font-weight="bold" dx="0.3">-</tspan><tspan dx="-0.6">1</tspan></tspan></text>
<text x="149" y="395.5" font-size="16.4" stroke-width="0.05">29.952-38.144 s</text>
<text x="149.5" y="665.5" font-size="18.7">E, keV</text>
<text transform="translate(37,582) rotate(-90)" font-size="19">Photons cm<tspan dy="-12" font-size="13"><tspan font-weight="bold" dx="0.6">-</tspan><tspan dx="-0.4">2</tspan></tspan><tspan dy="12" dx="-0.2"> s</tspan><tspan dy="-12" font-size="13"><tspan font-weight="bold" dx="1.1">-</tspan><tspan dx="-0.6">1</tspan></tspan><tspan dy="12" dx="0.5"> keV</tspan><tspan dy="-12" font-size="13"><tspan font-weight="bold" dx="0.3">-</tspan><tspan dx="-0.6">1</tspan></tspan></text>
<text x="527" y="395.5" font-size="16.4" stroke-width="0.05">62.720-70.912 s</text>
<text x="527.5" y="665.5" font-size="18.7">E, keV</text>
<text transform="translate(415,582) rotate(-90)" font-size="19">Photons cm<tspan dy="-12" font-size="13"><tspan font-weight="bold" dx="0.6">-</tspan><tspan dx="-0.4">2</tspan></tspan><tspan dy="12" dx="-0.2"> s</tspan><tspan dy="-12" font-size="13"><tspan font-weight="bold" dx="1.1">-</tspan><tspan dx="-0.6">1</tspan></tspan><tspan dy="12" dx="0.5"> keV</tspan><tspan dy="-12" font-size="13"><tspan font-weight="bold" dx="0.3">-</tspan><tspan dx="-0.6">1</tspan></tspan></text>
</g>
</svg>
</body></html>
